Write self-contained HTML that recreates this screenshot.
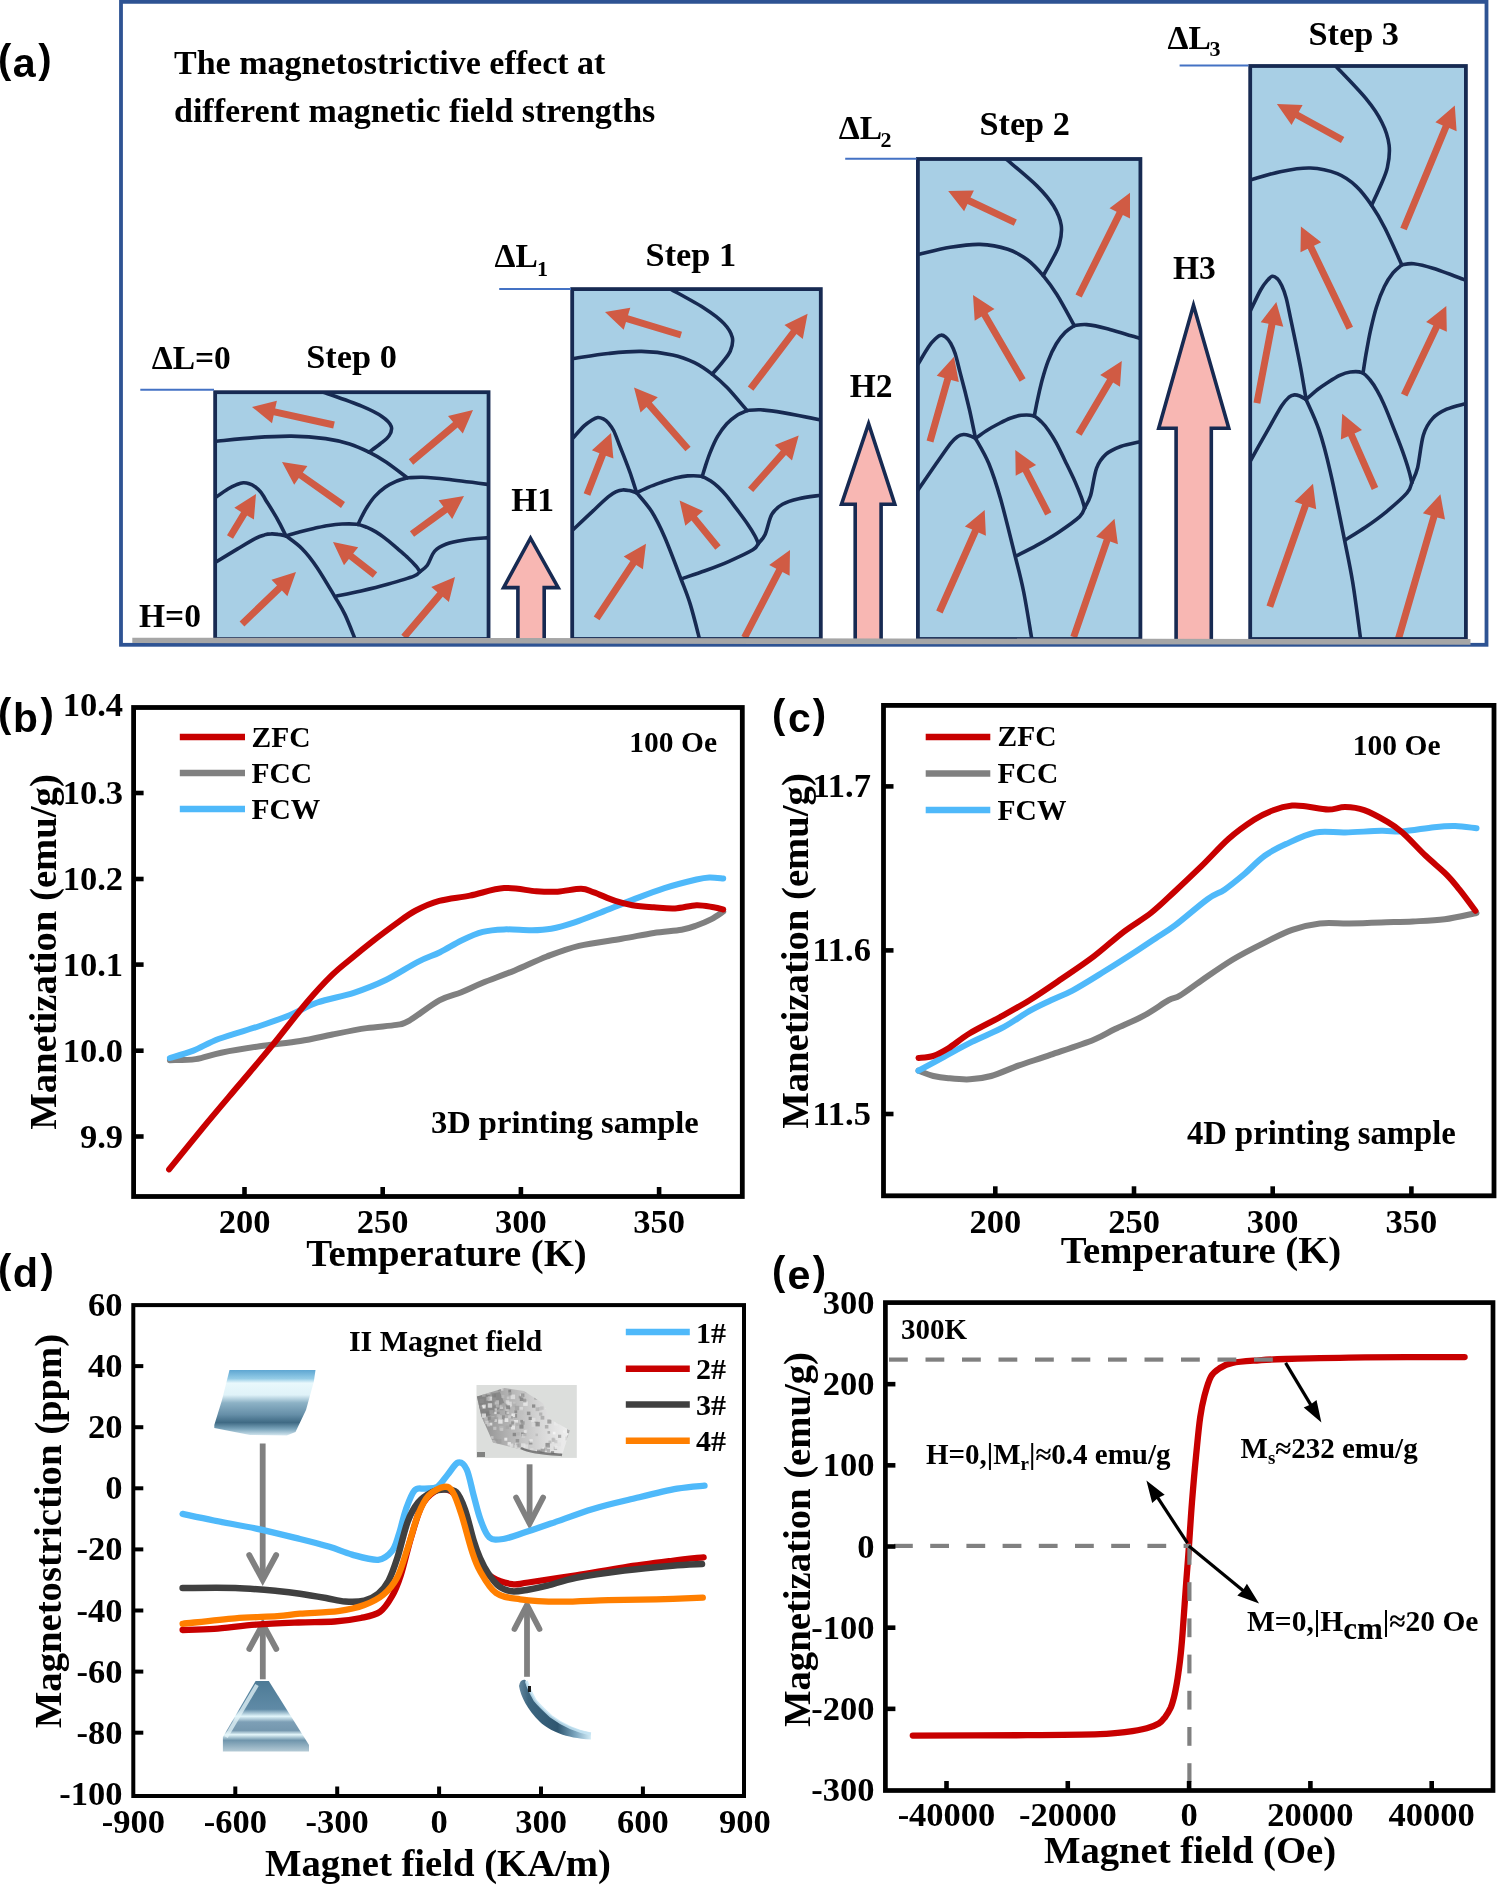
<!DOCTYPE html><html><head><meta charset="utf-8"><style>html,body{margin:0;padding:0;background:#fff;}svg{display:block;will-change:transform;}</style></head><body><svg width="1497" height="1885" viewBox="0 0 1497 1885">
<rect x="0" y="0" width="1497" height="1885" fill="#fff"/>
<text x="-2.0" y="72.6" font-size="40" text-anchor="start" fill="#000" style="font-family:'Liberation Sans',sans-serif;font-weight:bold;" >(</text>
<text x="38.3" y="72.6" font-size="40" text-anchor="start" fill="#000" style="font-family:'Liberation Sans',sans-serif;font-weight:bold;" >)</text>
<text x="12.8" y="77.1" font-size="41.2" text-anchor="start" fill="#000" style="font-family:'Liberation Sans',sans-serif;font-weight:bold;" >a</text>
<text x="174.0" y="74.0" font-size="34" text-anchor="start" fill="#000" style="font-family:'Liberation Serif',serif;font-weight:bold;" >The magnetostrictive effect at</text>
<text x="174.0" y="122.2" font-size="34" text-anchor="start" fill="#000" style="font-family:'Liberation Serif',serif;font-weight:bold;" >different magnetic field strengths</text>
<rect x="121" y="1.85" width="1365.5" height="642.95" fill="none" stroke="#2e5393" stroke-width="3.8"/>
<rect x="215.15" y="392.2" width="273.4" height="246.8" fill="#a8cfe5"/>
<clipPath id="cb0"><rect x="215.15" y="392.2" width="273.4" height="246.8"/></clipPath>
<g clip-path="url(#cb0)">
<path d="M323.4,392.2 C329.8,394.5 351.9,402.1 361.7,406.1 C371.4,410.2 377.0,413.0 381.9,416.4 C386.8,419.7 390.0,423.0 391.2,426.3 C392.4,429.5 390.9,432.9 389.0,435.9 C387.1,438.8 383.3,441.3 380.0,444.0 C376.7,446.7 370.9,450.8 369.0,452.2" fill="none" stroke="#172a52" stroke-width="3.6" stroke-linecap="round" stroke-linejoin="round"/>
<path d="M215.2,441.3 C221.8,440.7 242.1,438.5 254.8,437.6 C267.5,436.7 279.6,436.0 291.4,436.1 C303.2,436.3 315.9,437.3 325.6,438.6 C335.3,439.9 342.4,441.8 349.6,444.0 C356.9,446.3 363.0,449.2 369.0,452.2 C375.1,455.2 379.6,457.8 386.0,462.0 C392.4,466.3 403.8,475.2 407.3,477.8" fill="none" stroke="#172a52" stroke-width="3.6" stroke-linecap="round" stroke-linejoin="round"/>
<path d="M407.3,477.8 C409.8,477.8 415.8,477.1 422.3,477.3 C428.9,477.6 435.7,478.1 446.7,479.3 C457.7,480.5 481.5,483.6 488.5,484.5" fill="none" stroke="#172a52" stroke-width="3.6" stroke-linecap="round" stroke-linejoin="round"/>
<path d="M407.3,477.8 C405.4,478.4 399.8,479.7 396.1,481.3 C392.4,482.9 388.7,484.7 385.2,487.2 C381.7,489.7 378.0,492.9 375.1,496.1 C372.1,499.3 369.6,503.1 367.4,506.5 C365.2,509.8 363.5,513.3 361.9,516.3 C360.4,519.3 358.7,523.1 358.1,524.5" fill="none" stroke="#172a52" stroke-width="3.6" stroke-linecap="round" stroke-linejoin="round"/>
<path d="M215.2,497.8 C217.3,496.3 224.6,490.9 228.3,488.7 C231.9,486.5 234.5,485.5 237.0,484.5 C239.5,483.5 241.3,482.9 243.3,482.8 C245.4,482.7 247.4,483.1 249.3,483.8 C251.3,484.4 253.1,485.3 255.1,486.7 C257.0,488.1 258.8,489.6 260.8,492.2 C262.8,494.7 264.8,498.5 266.8,501.8 C268.9,505.1 271.1,508.5 273.1,511.9 C275.2,515.3 277.0,518.3 279.1,522.3 C281.3,526.3 284.8,533.6 285.9,535.8" fill="none" stroke="#172a52" stroke-width="3.6" stroke-linecap="round" stroke-linejoin="round"/>
<path d="M215.2,562.5 C218.9,560.2 230.9,552.9 237.6,548.9 C244.2,544.9 250.6,540.9 255.1,538.6 C259.5,536.2 261.7,535.6 264.4,534.9 C267.0,534.1 268.9,533.9 271.2,533.9 C273.5,533.8 275.6,534.0 278.0,534.4 C280.5,534.7 284.6,535.6 285.9,535.8" fill="none" stroke="#172a52" stroke-width="3.6" stroke-linecap="round" stroke-linejoin="round"/>
<path d="M285.9,535.8 C288.7,538.0 297.2,543.7 302.3,548.9 C307.5,554.1 311.5,559.3 316.8,567.2 C322.2,575.1 329.9,588.4 334.6,596.3 C339.3,604.2 341.6,607.5 345.0,614.6 C348.4,621.7 353.4,634.9 355.1,639.0" fill="none" stroke="#172a52" stroke-width="3.6" stroke-linecap="round" stroke-linejoin="round"/>
<path d="M285.9,535.8 C288.2,535.2 294.7,533.1 299.3,531.9 C304.0,530.7 309.0,529.5 313.8,528.4 C318.7,527.4 323.9,526.2 328.6,525.5 C333.3,524.7 337.3,524.2 342.0,524.0 C346.7,523.8 352.6,523.7 356.7,524.2 C360.9,524.8 363.9,526.2 367.1,527.4 C370.3,528.7 372.9,530.1 375.9,531.9 C378.8,533.7 381.4,535.4 384.9,538.1 C388.4,540.7 392.8,544.6 396.7,547.9 C400.5,551.3 404.9,555.0 408.1,558.0 C411.4,561.1 414.1,563.9 416.1,566.2 C418.0,568.5 419.3,570.7 419.9,571.6" fill="none" stroke="#172a52" stroke-width="3.6" stroke-linecap="round" stroke-linejoin="round"/>
<path d="M419.9,571.6 C421.1,570.6 424.8,568.6 427.3,565.2 C429.7,561.8 431.5,554.7 434.7,551.1 C437.8,547.6 441.5,545.8 446.4,544.0 C451.3,542.1 457.2,541.1 464.2,540.0 C471.2,539.0 484.4,538.0 488.5,537.6" fill="none" stroke="#172a52" stroke-width="3.6" stroke-linecap="round" stroke-linejoin="round"/>
<path d="M419.9,571.6 C418.9,572.4 419.3,574.0 413.9,576.1 C408.5,578.2 396.4,581.7 387.6,584.2 C378.8,586.7 369.7,588.9 361.1,590.9 C352.5,592.9 340.2,595.4 336.0,596.3" fill="none" stroke="#172a52" stroke-width="3.6" stroke-linecap="round" stroke-linejoin="round"/>
<polygon points="334.8,421.6 275.2,408.5 276.9,400.7 252.0,407.0 272.0,423.2 273.7,415.3 333.2,428.4" fill="#d05b44"/>
<polygon points="413.2,464.7 457.6,427.5 462.8,433.6 473.0,410.0 448.0,416.0 453.1,422.1 408.8,459.3" fill="#d05b44"/>
<polygon points="345.0,502.1 302.8,472.4 307.4,465.9 282.0,462.0 294.2,484.7 298.8,478.1 341.0,507.9" fill="#d05b44"/>
<polygon points="233.0,538.8 247.1,515.5 253.9,519.6 256.0,494.0 234.3,507.7 241.1,511.9 227.0,535.2" fill="#d05b44"/>
<polygon points="414.1,536.8 447.5,512.4 452.2,518.9 464.0,496.0 438.6,500.3 443.4,506.7 409.9,531.2" fill="#d05b44"/>
<polygon points="377.2,572.2 353.2,553.5 358.2,547.2 333.0,542.0 344.0,565.3 348.9,559.0 372.8,577.8" fill="#d05b44"/>
<polygon points="244.4,626.5 281.9,590.5 287.4,596.2 296.0,572.0 271.5,579.7 277.0,585.4 239.6,621.5" fill="#d05b44"/>
<polygon points="406.7,639.3 442.8,596.8 448.9,602.0 455.0,577.0 431.3,587.1 437.4,592.3 401.3,634.7" fill="#d05b44"/>
</g>
<rect x="215.15" y="392.2" width="273.4" height="246.8" fill="none" stroke="#172a52" stroke-width="3.8"/>
<rect x="572.2" y="289.1" width="248.6" height="349.9" fill="#a8cfe5"/>
<clipPath id="cb1"><rect x="572.2" y="289.1" width="248.6" height="349.9"/></clipPath>
<g clip-path="url(#cb1)">
<path d="M670.6,289.1 C676.4,292.4 696.6,303.2 705.4,308.9 C714.3,314.6 719.4,318.6 723.8,323.4 C728.3,328.1 731.2,332.8 732.3,337.4 C733.4,342.0 732.0,346.8 730.3,351.0 C728.6,355.2 725.1,358.7 722.1,362.6 C719.1,366.4 713.8,372.2 712.2,374.1" fill="none" stroke="#172a52" stroke-width="3.6" stroke-linecap="round" stroke-linejoin="round"/>
<path d="M572.2,358.7 C578.2,357.9 596.7,354.7 608.2,353.5 C619.8,352.3 630.8,351.1 641.6,351.4 C652.3,351.6 663.8,353.0 672.6,354.9 C681.5,356.7 687.9,359.4 694.5,362.6 C701.1,365.8 706.7,369.9 712.2,374.1 C717.7,378.4 721.8,382.1 727.6,388.1 C733.4,394.2 743.7,406.8 747.0,410.5" fill="none" stroke="#172a52" stroke-width="3.6" stroke-linecap="round" stroke-linejoin="round"/>
<path d="M747.0,410.5 C749.2,410.4 754.7,409.5 760.6,409.8 C766.6,410.2 772.7,410.9 782.8,412.6 C792.8,414.3 814.5,418.7 820.8,420.0" fill="none" stroke="#172a52" stroke-width="3.6" stroke-linecap="round" stroke-linejoin="round"/>
<path d="M747.0,410.5 C745.3,411.3 740.1,413.2 736.8,415.4 C733.4,417.6 730.0,420.3 726.8,423.8 C723.6,427.3 720.3,431.9 717.6,436.4 C714.9,441.0 712.7,446.3 710.7,451.1 C708.7,455.9 707.1,460.8 705.7,465.1 C704.3,469.4 702.8,474.7 702.2,476.6" fill="none" stroke="#172a52" stroke-width="3.6" stroke-linecap="round" stroke-linejoin="round"/>
<path d="M572.2,438.9 C574.2,436.7 580.8,429.1 584.1,425.9 C587.4,422.8 589.8,421.4 592.1,420.0 C594.4,418.6 595.9,417.7 597.8,417.5 C599.7,417.3 601.5,418.0 603.3,418.9 C605.1,419.8 606.8,421.1 608.5,423.1 C610.2,425.1 611.9,427.3 613.7,430.8 C615.5,434.4 617.3,439.8 619.2,444.5 C621.0,449.1 623.0,454.0 624.9,458.8 C626.8,463.6 628.4,467.8 630.4,473.5 C632.3,479.2 635.6,489.5 636.6,492.7" fill="none" stroke="#172a52" stroke-width="3.6" stroke-linecap="round" stroke-linejoin="round"/>
<path d="M572.2,530.5 C575.6,527.3 586.5,516.9 592.6,511.3 C598.6,505.6 604.4,499.9 608.5,496.6 C612.6,493.3 614.5,492.5 616.9,491.3 C619.4,490.2 621.1,490.1 623.2,489.9 C625.2,489.8 627.1,490.2 629.4,490.6 C631.6,491.1 635.4,492.4 636.6,492.7" fill="none" stroke="#172a52" stroke-width="3.6" stroke-linecap="round" stroke-linejoin="round"/>
<path d="M636.6,492.7 C639.1,495.8 646.8,503.9 651.5,511.3 C656.2,518.7 659.8,526.0 664.7,537.2 C669.6,548.4 676.6,567.3 680.8,578.5 C685.1,589.7 687.2,594.3 690.3,604.4 C693.4,614.4 698.0,633.2 699.5,639.0" fill="none" stroke="#172a52" stroke-width="3.6" stroke-linecap="round" stroke-linejoin="round"/>
<path d="M636.6,492.7 C638.6,491.8 644.5,488.9 648.8,487.1 C653.0,485.4 657.5,483.8 661.9,482.2 C666.4,480.7 671.1,479.1 675.4,478.0 C679.6,477.0 683.3,476.2 687.6,475.9 C691.8,475.7 697.2,475.5 701.0,476.3 C704.8,477.1 707.5,479.0 710.4,480.8 C713.3,482.7 715.7,484.6 718.4,487.1 C721.1,489.7 723.4,492.1 726.6,495.9 C729.7,499.7 733.7,505.2 737.3,509.9 C740.8,514.6 744.8,519.9 747.7,524.2 C750.7,528.5 753.1,532.6 754.9,535.8 C756.7,539.0 757.8,542.2 758.4,543.5" fill="none" stroke="#172a52" stroke-width="3.6" stroke-linecap="round" stroke-linejoin="round"/>
<path d="M758.4,543.5 C759.5,542.0 762.9,539.2 765.1,534.4 C767.4,529.5 768.9,519.5 771.8,514.4 C774.7,509.4 778.0,506.9 782.5,504.3 C787.0,501.7 792.3,500.2 798.7,498.7 C805.1,497.2 817.1,495.8 820.8,495.2" fill="none" stroke="#172a52" stroke-width="3.6" stroke-linecap="round" stroke-linejoin="round"/>
<path d="M758.4,543.5 C757.5,544.5 757.8,546.8 752.9,549.8 C748.0,552.7 737.1,557.8 729.1,561.3 C721.1,564.8 712.8,567.9 705.0,570.8 C697.1,573.6 685.9,577.2 682.1,578.5" fill="none" stroke="#172a52" stroke-width="3.6" stroke-linecap="round" stroke-linejoin="round"/>
<polygon points="682.0,331.7 628.0,315.3 630.3,307.7 605.0,312.0 623.7,329.7 626.0,322.0 680.0,338.3" fill="#d05b44"/>
<polygon points="753.4,390.8 796.5,334.1 802.8,339.0 807.6,313.7 784.5,325.1 790.9,329.9 747.8,386.6" fill="#d05b44"/>
<polygon points="690.6,446.7 651.8,402.5 657.8,397.2 634.0,387.5 640.5,412.4 646.5,407.1 685.4,451.3" fill="#d05b44"/>
<polygon points="590.3,495.8 605.9,455.7 613.4,458.6 611.0,433.0 591.9,450.2 599.4,453.2 583.7,493.2" fill="#d05b44"/>
<polygon points="753.2,492.0 786.0,455.1 792.0,460.4 798.7,435.6 774.8,445.1 780.8,450.5 748.0,487.4" fill="#d05b44"/>
<polygon points="720.7,545.3 696.9,516.2 703.1,511.1 679.6,500.6 685.3,525.7 691.5,520.6 715.3,549.7" fill="#d05b44"/>
<polygon points="599.5,620.3 636.2,564.9 642.9,569.3 646.0,543.8 623.7,556.6 630.4,561.0 593.7,616.5" fill="#d05b44"/>
<polygon points="747.6,639.2 782.5,572.0 789.6,575.7 790.0,550.0 769.2,565.1 776.3,568.8 741.4,636.0" fill="#d05b44"/>
</g>
<rect x="572.2" y="289.1" width="248.6" height="349.9" fill="none" stroke="#172a52" stroke-width="3.8"/>
<rect x="917.9" y="159" width="222.5" height="480.0" fill="#a8cfe5"/>
<clipPath id="cb2"><rect x="917.9" y="159" width="222.5" height="480.0"/></clipPath>
<g clip-path="url(#cb2)">
<path d="M1006.0,159.0 C1011.2,163.5 1029.2,178.3 1037.2,186.1 C1045.1,194.0 1049.6,199.5 1053.6,206.0 C1057.6,212.6 1060.2,218.9 1061.2,225.2 C1062.2,231.6 1060.9,238.2 1059.4,244.0 C1057.9,249.7 1054.8,254.5 1052.1,259.8 C1049.4,265.1 1044.7,273.0 1043.2,275.6" fill="none" stroke="#172a52" stroke-width="3.6" stroke-linecap="round" stroke-linejoin="round"/>
<path d="M917.9,254.5 C923.3,253.3 939.8,249.0 950.2,247.3 C960.5,245.6 970.4,244.1 980.0,244.4 C989.6,244.8 999.9,246.7 1007.8,249.2 C1015.7,251.8 1021.5,255.4 1027.4,259.8 C1033.3,264.2 1038.2,269.8 1043.2,275.6 C1048.1,281.5 1051.8,286.5 1057.0,294.8 C1062.2,303.2 1071.4,320.4 1074.3,325.6" fill="none" stroke="#172a52" stroke-width="3.6" stroke-linecap="round" stroke-linejoin="round"/>
<path d="M1074.3,325.6 C1076.4,325.4 1081.2,324.1 1086.6,324.6 C1091.9,325.1 1097.4,326.1 1106.4,328.4 C1115.3,330.8 1134.7,336.8 1140.4,338.5" fill="none" stroke="#172a52" stroke-width="3.6" stroke-linecap="round" stroke-linejoin="round"/>
<path d="M1074.3,325.6 C1072.8,326.7 1068.2,329.2 1065.2,332.3 C1062.2,335.3 1059.2,339.0 1056.3,343.8 C1053.4,348.6 1050.5,354.8 1048.1,361.1 C1045.7,367.3 1043.6,374.7 1041.8,381.2 C1040.1,387.8 1038.6,394.6 1037.4,400.4 C1036.1,406.3 1034.8,413.6 1034.3,416.3" fill="none" stroke="#172a52" stroke-width="3.6" stroke-linecap="round" stroke-linejoin="round"/>
<path d="M917.9,364.4 C919.7,361.5 925.6,351.0 928.6,346.7 C931.5,342.4 933.7,340.4 935.7,338.5 C937.7,336.6 939.1,335.4 940.8,335.2 C942.5,334.9 944.1,335.8 945.7,337.1 C947.3,338.4 948.8,340.1 950.4,342.8 C951.9,345.6 953.5,348.5 955.1,353.4 C956.7,358.3 958.3,365.7 960.0,372.1 C961.6,378.5 963.4,385.2 965.1,391.8 C966.7,398.4 968.2,404.2 970.0,412.0 C971.7,419.7 974.6,434.0 975.5,438.4" fill="none" stroke="#172a52" stroke-width="3.6" stroke-linecap="round" stroke-linejoin="round"/>
<path d="M917.9,490.2 C920.9,485.8 930.7,471.6 936.1,463.8 C941.6,456.0 946.8,448.2 950.4,443.6 C954.0,439.1 955.8,438.0 958.0,436.4 C960.1,434.9 961.7,434.7 963.5,434.5 C965.4,434.4 967.1,434.8 969.1,435.5 C971.1,436.1 974.5,437.9 975.5,438.4" fill="none" stroke="#172a52" stroke-width="3.6" stroke-linecap="round" stroke-linejoin="round"/>
<path d="M975.5,438.4 C977.8,442.6 984.7,453.6 988.9,463.8 C993.1,474.0 996.3,484.0 1000.7,499.3 C1005.0,514.7 1011.3,540.6 1015.1,556.0 C1019.0,571.3 1020.8,577.6 1023.6,591.5 C1026.4,605.3 1030.4,631.1 1031.8,639.0" fill="none" stroke="#172a52" stroke-width="3.6" stroke-linecap="round" stroke-linejoin="round"/>
<path d="M975.5,438.4 C977.3,437.1 982.6,433.1 986.4,430.7 C990.2,428.3 994.3,426.0 998.2,424.0 C1002.2,421.9 1006.4,419.6 1010.2,418.2 C1014.1,416.8 1017.3,415.7 1021.1,415.3 C1025.0,414.9 1029.7,414.7 1033.2,415.8 C1036.6,416.9 1039.0,419.6 1041.6,422.0 C1044.2,424.5 1046.3,427.2 1048.7,430.7 C1051.1,434.1 1053.3,437.5 1056.1,442.7 C1058.9,447.9 1062.5,455.4 1065.6,461.9 C1068.8,468.4 1072.4,475.6 1075.0,481.6 C1077.6,487.5 1079.8,493.0 1081.4,497.4 C1083.0,501.8 1084.0,506.2 1084.6,508.0" fill="none" stroke="#172a52" stroke-width="3.6" stroke-linecap="round" stroke-linejoin="round"/>
<path d="M1084.6,508.0 C1085.6,505.9 1088.6,502.1 1090.6,495.5 C1092.6,488.8 1094.0,475.0 1096.6,468.1 C1099.2,461.2 1102.1,457.8 1106.1,454.2 C1110.1,450.6 1114.9,448.6 1120.6,446.5 C1126.3,444.4 1137.1,442.5 1140.4,441.7" fill="none" stroke="#172a52" stroke-width="3.6" stroke-linecap="round" stroke-linejoin="round"/>
<path d="M1084.6,508.0 C1083.7,509.4 1084.0,512.5 1079.7,516.6 C1075.3,520.7 1065.5,527.6 1058.3,532.4 C1051.1,537.2 1043.7,541.5 1036.7,545.4 C1029.7,549.3 1019.7,554.2 1016.2,556.0" fill="none" stroke="#172a52" stroke-width="3.6" stroke-linecap="round" stroke-linejoin="round"/>
<polygon points="1016.8,219.4 970.5,197.6 973.9,190.4 948.2,191.0 964.1,211.2 967.5,204.0 1013.8,225.8" fill="#d05b44"/>
<polygon points="1081.7,297.6 1122.9,214.9 1130.0,218.5 1130.0,192.8 1109.5,208.3 1116.6,211.8 1075.5,294.4" fill="#d05b44"/>
<polygon points="1025.6,378.2 987.6,313.1 994.5,309.1 973.0,295.0 974.7,320.7 981.6,316.6 1019.6,381.8" fill="#d05b44"/>
<polygon points="933.4,442.4 951.1,379.9 958.8,382.1 954.0,356.8 936.7,375.8 944.4,378.0 926.6,440.4" fill="#d05b44"/>
<polygon points="1081.6,435.8 1113.1,382.6 1120.0,386.7 1121.8,361.0 1100.2,374.9 1107.1,379.0 1075.6,432.2" fill="#d05b44"/>
<polygon points="1051.4,512.2 1029.0,468.8 1036.1,465.1 1015.3,450.0 1015.7,475.7 1022.8,472.0 1045.2,515.4" fill="#d05b44"/>
<polygon points="942.6,613.4 978.6,532.4 985.9,535.7 984.7,510.0 964.9,526.4 972.2,529.6 936.2,610.6" fill="#d05b44"/>
<polygon points="1077.0,638.1 1110.3,541.6 1117.9,544.2 1114.5,518.7 1096.1,536.7 1103.7,539.3 1070.4,635.9" fill="#d05b44"/>
</g>
<rect x="917.9" y="159" width="222.5" height="480.0" fill="none" stroke="#172a52" stroke-width="3.8"/>
<rect x="1250.2" y="66" width="215.7" height="573.0" fill="#a8cfe5"/>
<clipPath id="cb3"><rect x="1250.2" y="66" width="215.7" height="573.0"/></clipPath>
<g clip-path="url(#cb3)">
<path d="M1335.6,66.0 C1340.7,71.4 1358.1,89.0 1365.8,98.4 C1373.5,107.7 1377.9,114.4 1381.8,122.2 C1385.7,129.9 1388.2,137.5 1389.1,145.1 C1390.0,152.6 1388.9,160.5 1387.4,167.4 C1385.9,174.3 1382.9,180.0 1380.3,186.3 C1377.6,192.6 1373.1,202.1 1371.6,205.2" fill="none" stroke="#172a52" stroke-width="3.6" stroke-linecap="round" stroke-linejoin="round"/>
<path d="M1250.2,180.0 C1255.4,178.6 1271.4,173.4 1281.5,171.4 C1291.5,169.4 1301.1,167.6 1310.4,168.0 C1319.7,168.4 1329.7,170.7 1337.3,173.7 C1345.0,176.8 1350.6,181.1 1356.3,186.3 C1362.0,191.6 1366.9,198.3 1371.6,205.2 C1376.4,212.2 1380.0,218.2 1385.0,228.2 C1390.0,238.1 1399.0,258.7 1401.8,264.8" fill="none" stroke="#172a52" stroke-width="3.6" stroke-linecap="round" stroke-linejoin="round"/>
<path d="M1401.8,264.8 C1403.8,264.6 1408.5,263.1 1413.7,263.7 C1418.9,264.3 1424.2,265.5 1432.9,268.3 C1441.6,271.0 1460.4,278.3 1465.9,280.3" fill="none" stroke="#172a52" stroke-width="3.6" stroke-linecap="round" stroke-linejoin="round"/>
<path d="M1401.8,264.8 C1400.4,266.2 1395.9,269.2 1393.0,272.9 C1390.1,276.5 1387.1,280.9 1384.4,286.6 C1381.6,292.3 1378.7,299.8 1376.4,307.2 C1374.0,314.7 1372.1,323.5 1370.3,331.3 C1368.6,339.1 1367.3,347.2 1366.0,354.2 C1364.8,361.2 1363.5,370.0 1363.0,373.1" fill="none" stroke="#172a52" stroke-width="3.6" stroke-linecap="round" stroke-linejoin="round"/>
<path d="M1250.2,311.2 C1251.9,307.7 1257.7,295.2 1260.6,290.0 C1263.4,284.9 1265.5,282.6 1267.5,280.3 C1269.4,278.0 1270.8,276.6 1272.4,276.3 C1274.0,276.0 1275.6,277.1 1277.2,278.6 C1278.7,280.1 1280.2,282.2 1281.7,285.5 C1283.2,288.7 1284.7,292.2 1286.2,298.1 C1287.8,303.9 1289.3,312.8 1291.0,320.4 C1292.6,328.1 1294.3,336.0 1295.9,343.9 C1297.5,351.8 1299.0,358.7 1300.7,368.0 C1302.4,377.2 1305.2,394.2 1306.1,399.5" fill="none" stroke="#172a52" stroke-width="3.6" stroke-linecap="round" stroke-linejoin="round"/>
<path d="M1250.2,461.4 C1253.1,456.1 1262.6,439.1 1267.9,429.9 C1273.1,420.6 1278.2,411.2 1281.7,405.8 C1285.2,400.3 1286.9,399.0 1289.0,397.2 C1291.1,395.4 1292.6,395.1 1294.4,394.9 C1296.2,394.7 1297.9,395.3 1299.8,396.0 C1301.8,396.8 1305.0,398.9 1306.1,399.5" fill="none" stroke="#172a52" stroke-width="3.6" stroke-linecap="round" stroke-linejoin="round"/>
<path d="M1306.1,399.5 C1308.2,404.5 1314.9,417.7 1319.0,429.9 C1323.1,442.0 1326.2,453.9 1330.4,472.3 C1334.7,490.6 1340.8,521.5 1344.5,539.9 C1348.2,558.2 1350.0,565.8 1352.7,582.3 C1355.4,598.8 1359.3,629.5 1360.6,639.0" fill="none" stroke="#172a52" stroke-width="3.6" stroke-linecap="round" stroke-linejoin="round"/>
<path d="M1306.1,399.5 C1307.8,398.0 1313.0,393.2 1316.6,390.3 C1320.3,387.5 1324.2,384.8 1328.1,382.3 C1331.9,379.8 1336.0,377.1 1339.7,375.4 C1343.4,373.7 1346.6,372.5 1350.3,372.0 C1354.0,371.5 1358.6,371.2 1361.9,372.6 C1365.2,373.9 1367.6,377.0 1370.1,380.0 C1372.6,383.0 1374.7,386.2 1377.0,390.3 C1379.4,394.4 1381.4,398.4 1384.1,404.6 C1386.9,410.9 1390.4,419.8 1393.4,427.6 C1396.5,435.3 1399.9,444.0 1402.5,451.1 C1405.0,458.1 1407.2,464.7 1408.7,470.0 C1410.3,475.2 1411.3,480.5 1411.8,482.6" fill="none" stroke="#172a52" stroke-width="3.6" stroke-linecap="round" stroke-linejoin="round"/>
<path d="M1411.8,482.6 C1412.7,480.1 1415.6,475.6 1417.6,467.7 C1419.5,459.7 1420.9,443.2 1423.4,435.0 C1425.9,426.8 1428.8,422.7 1432.7,418.4 C1436.6,414.1 1441.2,411.7 1446.7,409.2 C1452.2,406.7 1462.7,404.5 1465.9,403.5" fill="none" stroke="#172a52" stroke-width="3.6" stroke-linecap="round" stroke-linejoin="round"/>
<path d="M1411.8,482.6 C1411.0,484.3 1411.3,488.0 1407.0,492.9 C1402.8,497.8 1393.2,506.1 1386.3,511.8 C1379.4,517.5 1372.2,522.6 1365.4,527.3 C1358.6,531.9 1348.8,537.8 1345.5,539.9" fill="none" stroke="#172a52" stroke-width="3.6" stroke-linecap="round" stroke-linejoin="round"/>
<polygon points="1344.3,136.9 1298.7,111.9 1302.6,104.9 1276.9,103.9 1291.5,125.1 1295.4,118.0 1340.9,143.1" fill="#d05b44"/>
<polygon points="1406.7,230.3 1449.2,128.1 1456.6,131.2 1454.8,105.5 1435.4,122.3 1442.7,125.4 1400.3,227.7" fill="#d05b44"/>
<polygon points="1353.0,326.8 1314.0,245.7 1321.2,242.3 1300.9,226.5 1300.5,252.2 1307.7,248.7 1346.6,329.8" fill="#d05b44"/>
<polygon points="1260.3,403.8 1275.4,325.1 1283.3,326.7 1276.3,301.9 1260.7,322.3 1268.5,323.8 1253.5,402.4" fill="#d05b44"/>
<polygon points="1407.4,396.5 1439.6,328.4 1446.8,331.8 1446.3,306.1 1426.1,322.0 1433.3,325.4 1401.0,393.5" fill="#d05b44"/>
<polygon points="1378.2,487.1 1354.6,433.4 1362.0,430.1 1342.2,413.7 1340.9,439.4 1348.2,436.2 1371.8,489.9" fill="#d05b44"/>
<polygon points="1273.1,607.8 1308.7,506.7 1316.2,509.3 1313.0,483.8 1294.5,501.7 1302.1,504.3 1266.5,605.4" fill="#d05b44"/>
<polygon points="1401.8,640.0 1437.3,517.4 1445.0,519.6 1440.4,494.3 1422.9,513.2 1430.6,515.4 1395.0,638.0" fill="#d05b44"/>
</g>
<rect x="1250.2" y="66" width="215.7" height="573.0" fill="none" stroke="#172a52" stroke-width="3.8"/>
<line x1="140.3" y1="389.8" x2="214" y2="389.8" stroke="#4472c4" stroke-width="2"/>
<line x1="499.2" y1="289" x2="571" y2="289" stroke="#4472c4" stroke-width="2"/>
<line x1="845.2" y1="158.8" x2="916.5" y2="158.8" stroke="#4472c4" stroke-width="2"/>
<line x1="1179.6" y1="65.6" x2="1248.5" y2="65.6" stroke="#4472c4" stroke-width="2"/>
<polygon points="517.9,640.0 517.9,587.6 503.6,587.6 530.5,538.2 558.2,587.6 544.2,587.6 544.2,640.0" fill="#f8b7b3"/>
<polyline points="517.9,640.0 517.9,587.6 503.6,587.6 530.5,538.2 558.2,587.6 544.2,587.6 544.2,640.0" fill="none" stroke="#172a52" stroke-width="3.6" stroke-linejoin="miter" stroke-miterlimit="10"/>
<polygon points="855.2,640.0 855.2,504.2 841.5,504.2 868.6,423.7 894.8,504.2 881.1,504.2 881.1,640.0" fill="#f8b7b3"/>
<polyline points="855.2,640.0 855.2,504.2 841.5,504.2 868.6,423.7 894.8,504.2 881.1,504.2 881.1,640.0" fill="none" stroke="#172a52" stroke-width="3.6" stroke-linejoin="miter" stroke-miterlimit="10"/>
<polygon points="1176.1,640.0 1176.1,428.2 1158.7,428.2 1193.5,305.2 1228.8,428.2 1211.3,428.2 1211.3,640.0" fill="#f8b7b3"/>
<polyline points="1176.1,640.0 1176.1,428.2 1158.7,428.2 1193.5,305.2 1228.8,428.2 1211.3,428.2 1211.3,640.0" fill="none" stroke="#172a52" stroke-width="3.6" stroke-linejoin="miter" stroke-miterlimit="10"/>
<polygon points="132.3,637.7 1470.5,639.1 1470.5,644.8 132.3,643.1" fill="#a6a6a6"/>
<text x="151.7" y="369.0" font-size="33.5" text-anchor="start" fill="#000" style="font-family:'Liberation Serif',serif;font-weight:bold;" >&#916;L=0</text>
<text x="306.3" y="367.6" font-size="34.3" text-anchor="start" fill="#000" style="font-family:'Liberation Serif',serif;font-weight:bold;" >Step 0</text>
<text x="139.0" y="627.4" font-size="33.5" text-anchor="start" fill="#000" style="font-family:'Liberation Serif',serif;font-weight:bold;" >H=0</text>
<text x="494.4" y="267.3" font-size="33.5" text-anchor="start" fill="#000" style="font-family:'Liberation Serif',serif;font-weight:bold;" >&#916;L</text>
<text x="537.0" y="275.7" font-size="22" text-anchor="start" fill="#000" style="font-family:'Liberation Serif',serif;font-weight:bold;" >1</text>
<text x="645.6" y="266.0" font-size="34.3" text-anchor="start" fill="#000" style="font-family:'Liberation Serif',serif;font-weight:bold;" >Step 1</text>
<text x="511.2" y="511.1" font-size="33.5" text-anchor="start" fill="#000" style="font-family:'Liberation Serif',serif;font-weight:bold;" >H1</text>
<text x="838.8" y="139.4" font-size="33.5" text-anchor="start" fill="#000" style="font-family:'Liberation Serif',serif;font-weight:bold;" >&#916;L</text>
<text x="880.5" y="146.7" font-size="22" text-anchor="start" fill="#000" style="font-family:'Liberation Serif',serif;font-weight:bold;" >2</text>
<text x="979.4" y="135.0" font-size="34.3" text-anchor="start" fill="#000" style="font-family:'Liberation Serif',serif;font-weight:bold;" >Step 2</text>
<text x="849.8" y="396.9" font-size="33.5" text-anchor="start" fill="#000" style="font-family:'Liberation Serif',serif;font-weight:bold;" >H2</text>
<text x="1167.6" y="48.5" font-size="33.5" text-anchor="start" fill="#000" style="font-family:'Liberation Serif',serif;font-weight:bold;" >&#916;L</text>
<text x="1209.5" y="55.7" font-size="22" text-anchor="start" fill="#000" style="font-family:'Liberation Serif',serif;font-weight:bold;" >3</text>
<text x="1308.5" y="44.6" font-size="34.3" text-anchor="start" fill="#000" style="font-family:'Liberation Serif',serif;font-weight:bold;" >Step 3</text>
<text x="1173.0" y="278.5" font-size="33.5" text-anchor="start" fill="#000" style="font-family:'Liberation Serif',serif;font-weight:bold;" >H3</text>
<text x="-2.0" y="726.9" font-size="40" text-anchor="start" fill="#000" style="font-family:'Liberation Sans',sans-serif;font-weight:bold;" >(</text>
<text x="40.6" y="726.9" font-size="40" text-anchor="start" fill="#000" style="font-family:'Liberation Sans',sans-serif;font-weight:bold;" >)</text>
<text x="13.0" y="731.7" font-size="40.7" text-anchor="start" fill="#000" style="font-family:'Liberation Sans',sans-serif;font-weight:bold;" >b</text>
<path d="M169.9,1060.2 C174.2,1060.0 187.1,1060.3 195.6,1059.1 C204.1,1057.8 210.5,1054.8 221.2,1052.7 C231.9,1050.6 246.5,1048.2 259.7,1046.3 C272.9,1044.3 288.2,1043.0 300.3,1041.0 C312.4,1039.0 321.3,1036.7 332.4,1034.5 C343.4,1032.3 355.9,1029.7 366.6,1028.1 C377.3,1026.5 389.4,1026.2 396.5,1024.9 C403.6,1023.7 402.2,1024.7 409.3,1020.6 C416.4,1016.5 430.6,1005.0 439.3,1000.3 C448.0,995.6 454.1,995.1 461.4,992.2 C468.6,989.3 473.9,986.4 482.8,982.8 C491.7,979.2 504.1,974.8 514.8,970.4 C525.5,966.0 536.2,960.6 546.9,956.5 C557.6,952.4 566.5,948.8 579.0,945.8 C591.5,942.8 609.2,940.9 621.7,938.8 C634.2,936.7 643.8,934.5 653.8,933.0 C663.8,931.5 674.5,931.0 681.6,929.8 C688.7,928.5 691.5,927.3 696.5,925.5 C701.5,923.7 707.0,921.4 711.5,919.1 C716.0,916.8 721.2,912.9 723.2,911.6" fill="none" stroke="#808080" stroke-width="6" stroke-linecap="round" stroke-linejoin="round"/>
<path d="M169.9,1058.0 C173.8,1056.8 185.2,1053.8 193.4,1050.6 C201.6,1047.4 208.1,1042.9 219.1,1038.8 C230.1,1034.7 247.9,1029.9 259.7,1026.0 C271.4,1022.1 280.0,1019.2 289.6,1015.3 C299.2,1011.4 306.7,1006.2 317.4,1002.5 C328.1,998.8 342.4,996.5 353.8,992.8 C365.2,989.0 375.1,985.2 385.8,980.0 C396.5,974.8 408.9,966.4 417.9,961.8 C426.9,957.2 432.8,955.8 440.0,952.2 C447.2,948.7 454.3,943.9 461.4,940.5 C468.5,937.1 475.7,933.8 482.8,931.9 C489.9,930.0 495.9,929.7 504.1,929.4 C512.3,929.1 524.0,930.3 531.9,930.2 C539.8,930.1 544.1,930.0 551.2,928.7 C558.3,927.4 566.5,925.0 574.7,922.3 C582.9,919.6 590.7,916.4 600.3,912.7 C609.9,909.0 621.7,904.0 632.4,899.9 C643.1,895.8 653.8,891.5 664.5,888.1 C675.2,884.7 689.0,881.3 696.5,879.5 C704.0,877.7 704.8,877.6 709.3,877.4 C713.8,877.2 720.9,878.3 723.2,878.5" fill="none" stroke="#4fb9fa" stroke-width="6" stroke-linecap="round" stroke-linejoin="round"/>
<path d="M169.1,1169.3 C174.9,1162.2 192.6,1140.3 204.1,1126.4 C215.6,1112.5 226.9,1099.3 238.3,1085.8 C249.7,1072.3 261.1,1059.1 272.5,1045.2 C283.9,1031.3 296.7,1014.2 306.7,1002.5 C316.7,990.8 324.5,982.4 332.4,974.7 C340.2,967.0 347.4,961.9 353.8,956.5 C360.2,951.1 363.8,948.1 370.9,942.6 C378.0,937.1 389.0,928.8 396.5,923.4 C404.0,918.0 408.7,914.2 415.8,910.5 C422.9,906.8 430.3,903.4 439.3,900.9 C448.3,898.4 459.1,897.7 469.9,895.6 C480.7,893.5 493.1,888.8 504.1,888.1 C515.2,887.4 527.3,890.7 536.2,891.3 C545.1,891.9 550.1,892.1 557.6,891.7 C565.1,891.3 575.1,888.6 581.1,888.7 C587.1,888.8 588.2,890.4 593.9,892.4 C599.6,894.4 608.9,898.8 615.3,900.9 C621.7,903.0 626.0,904.1 632.4,905.2 C638.8,906.3 646.7,906.8 653.8,907.3 C660.9,907.8 668.0,908.8 675.1,908.4 C682.2,908.0 690.1,905.4 696.5,905.2 C702.9,905.0 709.1,906.6 713.6,907.3 C718.1,908.0 721.6,909.1 723.2,909.5" fill="none" stroke="#c80000" stroke-width="6" stroke-linecap="round" stroke-linejoin="round"/>
<rect x="133.6" y="707.5" width="608.7" height="489.0" fill="none" stroke="#000" stroke-width="4.8"/>
<text x="123.0" y="716.0" font-size="34.5" text-anchor="end" fill="#000" style="font-family:'Liberation Serif',serif;font-weight:bold;" >10.4</text>
<line x1="133.6" y1="793" x2="143.6" y2="793" stroke="#000" stroke-width="4.6"/>
<text x="123.0" y="804.0" font-size="34.5" text-anchor="end" fill="#000" style="font-family:'Liberation Serif',serif;font-weight:bold;" >10.3</text>
<line x1="133.6" y1="879" x2="143.6" y2="879" stroke="#000" stroke-width="4.6"/>
<text x="123.0" y="890.0" font-size="34.5" text-anchor="end" fill="#000" style="font-family:'Liberation Serif',serif;font-weight:bold;" >10.2</text>
<line x1="133.6" y1="964.6" x2="143.6" y2="964.6" stroke="#000" stroke-width="4.6"/>
<text x="123.0" y="975.6" font-size="34.5" text-anchor="end" fill="#000" style="font-family:'Liberation Serif',serif;font-weight:bold;" >10.1</text>
<line x1="133.6" y1="1050.7" x2="143.6" y2="1050.7" stroke="#000" stroke-width="4.6"/>
<text x="123.0" y="1061.7" font-size="34.5" text-anchor="end" fill="#000" style="font-family:'Liberation Serif',serif;font-weight:bold;" >10.0</text>
<line x1="133.6" y1="1136.5" x2="143.6" y2="1136.5" stroke="#000" stroke-width="4.6"/>
<text x="123.0" y="1147.5" font-size="34.5" text-anchor="end" fill="#000" style="font-family:'Liberation Serif',serif;font-weight:bold;" >9.9</text>
<line x1="244.5" y1="1196.5" x2="244.5" y2="1187.0" stroke="#000" stroke-width="4.6"/>
<text x="244.5" y="1233.0" font-size="34.5" text-anchor="middle" fill="#000" style="font-family:'Liberation Serif',serif;font-weight:bold;" >200</text>
<line x1="382.7" y1="1196.5" x2="382.7" y2="1187.0" stroke="#000" stroke-width="4.6"/>
<text x="382.7" y="1233.0" font-size="34.5" text-anchor="middle" fill="#000" style="font-family:'Liberation Serif',serif;font-weight:bold;" >250</text>
<line x1="520.9" y1="1196.5" x2="520.9" y2="1187.0" stroke="#000" stroke-width="4.6"/>
<text x="520.9" y="1233.0" font-size="34.5" text-anchor="middle" fill="#000" style="font-family:'Liberation Serif',serif;font-weight:bold;" >300</text>
<line x1="659.0999999999999" y1="1196.5" x2="659.0999999999999" y2="1187.0" stroke="#000" stroke-width="4.6"/>
<text x="659.1" y="1233.0" font-size="34.5" text-anchor="middle" fill="#000" style="font-family:'Liberation Serif',serif;font-weight:bold;" >350</text>
<text x="446.5" y="1265.5" font-size="38.7" text-anchor="middle" fill="#000" style="font-family:'Liberation Serif',serif;font-weight:bold;" >Temperature (K)</text>
<text x="0" y="0" font-size="38.7" text-anchor="middle" style="font-family:'Liberation Serif',serif;font-weight:bold;" transform="translate(56,952) rotate(-90)">Manetization (emu/g)</text>
<line x1="179.8" y1="737" x2="245" y2="737" stroke="#c80000" stroke-width="6.5"/>
<text x="251.5" y="746.5" font-size="29.5" text-anchor="start" fill="#000" style="font-family:'Liberation Serif',serif;font-weight:bold;" >ZFC</text>
<line x1="179.8" y1="773" x2="245" y2="773" stroke="#808080" stroke-width="6.5"/>
<text x="251.5" y="782.5" font-size="29.5" text-anchor="start" fill="#000" style="font-family:'Liberation Serif',serif;font-weight:bold;" >FCC</text>
<line x1="179.8" y1="809" x2="245" y2="809" stroke="#4fb9fa" stroke-width="6.5"/>
<text x="251.5" y="818.5" font-size="29.5" text-anchor="start" fill="#000" style="font-family:'Liberation Serif',serif;font-weight:bold;" >FCW</text>
<text x="717.0" y="752.0" font-size="29.5" text-anchor="end" fill="#000" style="font-family:'Liberation Serif',serif;font-weight:bold;" >100 Oe</text>
<text x="698.8" y="1133.0" font-size="32.6" text-anchor="end" fill="#000" style="font-family:'Liberation Serif',serif;font-weight:bold;" >3D printing sample</text>
<text x="772.1" y="727.9" font-size="40" text-anchor="start" fill="#000" style="font-family:'Liberation Sans',sans-serif;font-weight:bold;" >(</text>
<text x="812.8" y="727.9" font-size="40" text-anchor="start" fill="#000" style="font-family:'Liberation Sans',sans-serif;font-weight:bold;" >)</text>
<text x="787.9" y="732.1" font-size="41" text-anchor="start" fill="#000" style="font-family:'Liberation Sans',sans-serif;font-weight:bold;" >c</text>
<path d="M918.5,1070.7 C921.0,1071.6 928.4,1074.8 933.4,1076.0 C938.4,1077.2 942.3,1077.7 948.4,1078.2 C954.5,1078.8 962.7,1079.7 969.8,1079.3 C976.9,1078.9 983.0,1078.3 991.2,1076.0 C999.4,1073.7 1009.0,1069.0 1019.0,1065.4 C1029.0,1061.9 1038.5,1059.0 1051.0,1054.7 C1063.5,1050.4 1083.1,1044.0 1093.8,1039.7 C1104.5,1035.4 1106.9,1032.9 1115.1,1029.0 C1123.3,1025.1 1134.0,1021.0 1142.9,1016.2 C1151.8,1011.4 1162.4,1003.7 1168.6,1000.2 C1174.8,996.8 1174.6,998.8 1180.0,995.5 C1185.4,992.2 1192.4,986.7 1201.2,980.7 C1210.0,974.7 1222.3,965.9 1232.9,959.5 C1243.5,953.1 1254.8,947.5 1264.7,942.6 C1274.6,937.7 1283.0,933.1 1292.2,929.9 C1301.4,926.7 1310.3,924.6 1319.8,923.5 C1329.3,922.4 1339.2,923.7 1349.4,923.5 C1359.6,923.3 1370.6,922.9 1381.2,922.5 C1391.8,922.1 1402.3,921.9 1412.9,921.4 C1423.5,920.9 1434.1,920.7 1444.7,919.3 C1455.3,917.9 1471.2,914.0 1476.5,913.0" fill="none" stroke="#808080" stroke-width="6" stroke-linecap="round" stroke-linejoin="round"/>
<path d="M918.5,1070.7 C922.8,1068.4 935.2,1061.6 944.1,1056.8 C953.0,1052.0 961.9,1046.9 971.9,1041.9 C981.9,1036.9 994.4,1032.1 1004.0,1026.9 C1013.6,1021.7 1021.8,1015.4 1029.6,1010.9 C1037.4,1006.4 1043.9,1003.6 1051.0,1000.2 C1058.1,996.8 1063.5,995.4 1072.4,990.6 C1081.3,985.8 1093.8,977.9 1104.5,971.3 C1115.2,964.7 1128.0,956.5 1136.5,951.0 C1145.0,945.5 1149.4,942.5 1155.8,938.2 C1162.2,933.9 1166.4,931.9 1175.0,925.4 C1183.6,918.9 1199.2,905.2 1207.5,899.2 C1215.8,893.2 1218.5,893.8 1224.5,889.7 C1230.5,885.6 1236.8,880.4 1243.5,874.8 C1250.2,869.1 1257.6,860.9 1264.7,855.8 C1271.8,850.7 1277.4,848.0 1285.9,844.1 C1294.4,840.2 1305.6,834.4 1315.5,832.5 C1325.4,830.6 1334.2,832.8 1345.2,832.5 C1356.2,832.2 1371.7,831.0 1381.2,830.8 C1390.7,830.6 1393.6,832.0 1402.4,831.4 C1411.2,830.8 1425.3,828.1 1434.1,827.2 C1442.9,826.3 1448.2,825.9 1455.3,826.1 C1462.4,826.3 1473.0,827.9 1476.5,828.2" fill="none" stroke="#4fb9fa" stroke-width="6" stroke-linecap="round" stroke-linejoin="round"/>
<path d="M918.5,1057.9 C921.0,1057.6 928.4,1057.4 933.4,1055.8 C938.4,1054.2 942.3,1052.0 948.4,1048.3 C954.5,1044.5 961.2,1038.5 969.8,1033.3 C978.3,1028.1 989.7,1022.8 999.7,1017.3 C1009.7,1011.8 1019.3,1006.6 1029.6,1000.2 C1039.9,993.8 1051.0,986.1 1061.7,978.8 C1072.4,971.5 1083.5,964.2 1093.8,956.4 C1104.1,948.6 1114.1,939.1 1123.7,931.8 C1133.3,924.5 1143.0,919.3 1151.5,912.5 C1160.0,905.7 1166.7,898.9 1175.0,891.2 C1183.3,883.5 1192.2,875.1 1201.2,866.4 C1210.2,857.7 1219.9,846.6 1228.7,838.8 C1237.5,831.0 1246.7,824.6 1254.1,819.8 C1261.5,815.0 1266.8,812.6 1273.2,810.2 C1279.6,807.8 1286.6,806.2 1292.2,805.6 C1297.8,805.0 1301.0,805.9 1307.0,806.6 C1313.0,807.3 1321.8,809.5 1328.2,809.6 C1334.6,809.7 1339.2,807.0 1345.2,807.1 C1351.2,807.2 1357.2,807.7 1364.2,810.2 C1371.2,812.7 1381.1,818.2 1387.5,821.9 C1393.9,825.6 1396.0,826.9 1402.4,832.5 C1408.8,838.1 1418.3,848.8 1425.7,855.8 C1433.1,862.8 1441.2,869.1 1446.8,874.8 C1452.4,880.4 1454.7,883.7 1459.5,889.7 C1464.3,895.7 1472.8,907.3 1475.4,910.8" fill="none" stroke="#c80000" stroke-width="6" stroke-linecap="round" stroke-linejoin="round"/>
<rect x="883.5" y="705.4" width="610.5" height="490.4" fill="none" stroke="#000" stroke-width="4.8"/>
<line x1="883.5" y1="786.4" x2="893.5" y2="786.4" stroke="#000" stroke-width="4.6"/>
<text x="871.0" y="797.4" font-size="34.5" text-anchor="end" fill="#000" style="font-family:'Liberation Serif',serif;font-weight:bold;" >11.7</text>
<line x1="883.5" y1="950.4" x2="893.5" y2="950.4" stroke="#000" stroke-width="4.6"/>
<text x="871.0" y="961.4" font-size="34.5" text-anchor="end" fill="#000" style="font-family:'Liberation Serif',serif;font-weight:bold;" >11.6</text>
<line x1="883.5" y1="1114" x2="893.5" y2="1114" stroke="#000" stroke-width="4.6"/>
<text x="871.0" y="1125.0" font-size="34.5" text-anchor="end" fill="#000" style="font-family:'Liberation Serif',serif;font-weight:bold;" >11.5</text>
<line x1="995.3" y1="1195.8" x2="995.3" y2="1186.3" stroke="#000" stroke-width="4.6"/>
<text x="995.3" y="1233.0" font-size="34.5" text-anchor="middle" fill="#000" style="font-family:'Liberation Serif',serif;font-weight:bold;" >200</text>
<line x1="1134.0" y1="1195.8" x2="1134.0" y2="1186.3" stroke="#000" stroke-width="4.6"/>
<text x="1134.0" y="1233.0" font-size="34.5" text-anchor="middle" fill="#000" style="font-family:'Liberation Serif',serif;font-weight:bold;" >250</text>
<line x1="1272.6999999999998" y1="1195.8" x2="1272.6999999999998" y2="1186.3" stroke="#000" stroke-width="4.6"/>
<text x="1272.7" y="1233.0" font-size="34.5" text-anchor="middle" fill="#000" style="font-family:'Liberation Serif',serif;font-weight:bold;" >300</text>
<line x1="1411.3999999999999" y1="1195.8" x2="1411.3999999999999" y2="1186.3" stroke="#000" stroke-width="4.6"/>
<text x="1411.4" y="1233.0" font-size="34.5" text-anchor="middle" fill="#000" style="font-family:'Liberation Serif',serif;font-weight:bold;" >350</text>
<text x="1201.0" y="1263.0" font-size="38.7" text-anchor="middle" fill="#000" style="font-family:'Liberation Serif',serif;font-weight:bold;" >Temperature (K)</text>
<text x="0" y="0" font-size="38.7" text-anchor="middle" style="font-family:'Liberation Serif',serif;font-weight:bold;" transform="translate(808,951) rotate(-90)">Manetization (emu/g)</text>
<line x1="925.7" y1="736.9" x2="990.3" y2="736.9" stroke="#c80000" stroke-width="6.5"/>
<text x="997.6" y="746.4" font-size="29.5" text-anchor="start" fill="#000" style="font-family:'Liberation Serif',serif;font-weight:bold;" >ZFC</text>
<line x1="925.7" y1="773.5" x2="990.3" y2="773.5" stroke="#808080" stroke-width="6.5"/>
<text x="997.6" y="783.0" font-size="29.5" text-anchor="start" fill="#000" style="font-family:'Liberation Serif',serif;font-weight:bold;" >FCC</text>
<line x1="925.7" y1="810.1" x2="990.3" y2="810.1" stroke="#4fb9fa" stroke-width="6.5"/>
<text x="997.6" y="819.6" font-size="29.5" text-anchor="start" fill="#000" style="font-family:'Liberation Serif',serif;font-weight:bold;" >FCW</text>
<text x="1440.5" y="755.2" font-size="29.5" text-anchor="end" fill="#000" style="font-family:'Liberation Serif',serif;font-weight:bold;" >100 Oe</text>
<text x="1455.8" y="1143.8" font-size="32.7" text-anchor="end" fill="#000" style="font-family:'Liberation Serif',serif;font-weight:bold;" >4D printing sample</text>
<text x="-2.0" y="1282.9" font-size="40" text-anchor="start" fill="#000" style="font-family:'Liberation Sans',sans-serif;font-weight:bold;" >(</text>
<text x="40.4" y="1282.9" font-size="40" text-anchor="start" fill="#000" style="font-family:'Liberation Sans',sans-serif;font-weight:bold;" >)</text>
<text x="12.8" y="1286.9" font-size="41.4" text-anchor="start" fill="#000" style="font-family:'Liberation Sans',sans-serif;font-weight:bold;" >d</text>
<defs><linearGradient id="p1g" x1="0" y1="0" x2="0" y2="1"><stop offset="0" stop-color="#5ea6d2"/><stop offset="0.13" stop-color="#93cbe6"/><stop offset="0.2" stop-color="#e9f8fc"/><stop offset="0.38" stop-color="#dff2f8"/><stop offset="0.5" stop-color="#8db2c6"/><stop offset="0.68" stop-color="#668fa8"/><stop offset="0.8" stop-color="#3f6a84"/><stop offset="0.9" stop-color="#7aa4bb"/><stop offset="1" stop-color="#d6e8f0"/></linearGradient><linearGradient id="p3g" x1="0" y1="0" x2="0" y2="1"><stop offset="0" stop-color="#4e7b96"/><stop offset="0.4" stop-color="#5f8aa6"/><stop offset="0.5" stop-color="#e2f6fb"/><stop offset="0.58" stop-color="#7d9fb6"/><stop offset="0.7" stop-color="#7497ae"/><stop offset="0.76" stop-color="#e4f6fa"/><stop offset="0.84" stop-color="#6f95ac"/><stop offset="1" stop-color="#b5cbd6"/></linearGradient><linearGradient id="p2g" x1="0" y1="0" x2="1" y2="0"><stop offset="0" stop-color="#8a8a8a"/><stop offset="0.35" stop-color="#b4b4b4"/><stop offset="0.7" stop-color="#d8d8d8"/><stop offset="1" stop-color="#f0f0f0"/></linearGradient><linearGradient id="p4g" gradientUnits="userSpaceOnUse" x1="517" y1="0" x2="591" y2="0"><stop offset="0" stop-color="#6d8fa5"/><stop offset="0.15" stop-color="#3d6680"/><stop offset="0.55" stop-color="#2e5670"/><stop offset="0.8" stop-color="#7fa9c2"/><stop offset="1" stop-color="#d4ecf6"/></linearGradient><clipPath id="p2c"><polygon points="476.9,1396.4 504.6,1388 523.8,1391 543,1403.3 550.6,1419.5 569.8,1430.2 562.2,1454.8 523.8,1450.2 493,1442.5 481.5,1416.4"/></clipPath></defs>
<polygon points="229.5,1370 315.5,1370 313.8,1381.7 306,1410 295.5,1432 286.8,1435.6 250,1435 214.3,1428 214.3,1425 222,1400" fill="url(#p1g)"/>
<rect x="476.5" y="1385" width="100.3" height="72.9" fill="#dcdedc"/>
<polygon points="476.9,1396.4 504.6,1388 523.8,1391 543,1403.3 550.6,1419.5 569.8,1430.2 562.2,1454.8 523.8,1450.2 493,1442.5 481.5,1416.4" fill="url(#p2g)"/>
<polygon points="476.9,1396.4 500,1392 505,1405 490,1415 481.5,1416.4" fill="#7d7d7d" opacity="0.7"/>
<g clip-path="url(#p2c)"><rect x="506.8" y="1396.6" width="2.6" height="2.6" fill="rgb(204,204,204)" opacity="0.75"/><rect x="526.9" y="1411.6" width="3.5" height="3.5" fill="rgb(127,127,127)" opacity="0.75"/><rect x="479.6" y="1416.4" width="2.7" height="2.7" fill="rgb(129,129,129)" opacity="0.75"/><rect x="516.3" y="1443.9" width="2.9" height="2.9" fill="rgb(136,136,136)" opacity="0.75"/><rect x="535.6" y="1452.3" width="3.3" height="3.3" fill="rgb(195,195,195)" opacity="0.75"/><rect x="568.7" y="1389.3" width="3.1" height="3.1" fill="rgb(231,231,231)" opacity="0.75"/><rect x="489.7" y="1394.2" width="4.1" height="4.1" fill="rgb(160,160,160)" opacity="0.75"/><rect x="493.2" y="1426.7" width="3.2" height="3.2" fill="rgb(203,203,203)" opacity="0.75"/><rect x="528.0" y="1390.4" width="2.9" height="2.9" fill="rgb(127,127,127)" opacity="0.75"/><rect x="540.6" y="1415.9" width="3.7" height="3.7" fill="rgb(160,160,160)" opacity="0.75"/><rect x="519.1" y="1407.0" width="3.9" height="3.9" fill="rgb(223,223,223)" opacity="0.75"/><rect x="499.2" y="1426.2" width="4.3" height="4.3" fill="rgb(188,188,188)" opacity="0.75"/><rect x="545.3" y="1406.2" width="2.7" height="2.7" fill="rgb(247,247,247)" opacity="0.75"/><rect x="515.7" y="1439.0" width="3.5" height="3.5" fill="rgb(139,139,139)" opacity="0.75"/><rect x="479.7" y="1432.8" width="3.6" height="3.6" fill="rgb(219,219,219)" opacity="0.75"/><rect x="559.2" y="1408.0" width="3.7" height="3.7" fill="rgb(210,210,210)" opacity="0.75"/><rect x="531.1" y="1417.9" width="4.4" height="4.4" fill="rgb(229,229,229)" opacity="0.75"/><rect x="521.0" y="1432.5" width="3.9" height="3.9" fill="rgb(127,127,127)" opacity="0.75"/><rect x="537.5" y="1455.5" width="3.1" height="3.1" fill="rgb(226,226,226)" opacity="0.75"/><rect x="512.7" y="1432.8" width="3.4" height="3.4" fill="rgb(122,122,122)" opacity="0.75"/><rect x="492.0" y="1394.2" width="4.0" height="4.0" fill="rgb(127,127,127)" opacity="0.75"/><rect x="488.3" y="1403.3" width="4.2" height="4.2" fill="rgb(170,170,170)" opacity="0.75"/><rect x="483.7" y="1417.4" width="4.3" height="4.3" fill="rgb(191,191,191)" opacity="0.75"/><rect x="553.8" y="1446.5" width="3.3" height="3.3" fill="rgb(156,156,156)" opacity="0.75"/><rect x="510.1" y="1447.9" width="2.8" height="2.8" fill="rgb(244,244,244)" opacity="0.75"/><rect x="492.7" y="1402.2" width="3.5" height="3.5" fill="rgb(150,150,150)" opacity="0.75"/><rect x="532.0" y="1404.4" width="3.3" height="3.3" fill="rgb(120,120,120)" opacity="0.75"/><rect x="511.1" y="1425.6" width="3.9" height="3.9" fill="rgb(243,243,243)" opacity="0.75"/><rect x="525.0" y="1429.2" width="2.6" height="2.6" fill="rgb(207,207,207)" opacity="0.75"/><rect x="561.5" y="1440.6" width="4.1" height="4.1" fill="rgb(233,233,233)" opacity="0.75"/><rect x="513.3" y="1413.9" width="3.8" height="3.8" fill="rgb(133,133,133)" opacity="0.75"/><rect x="481.9" y="1390.7" width="2.8" height="2.8" fill="rgb(147,147,147)" opacity="0.75"/><rect x="508.3" y="1389.7" width="2.8" height="2.8" fill="rgb(120,120,120)" opacity="0.75"/><rect x="485.6" y="1411.5" width="4.2" height="4.2" fill="rgb(123,123,123)" opacity="0.75"/><rect x="534.3" y="1396.4" width="3.2" height="3.2" fill="rgb(152,152,152)" opacity="0.75"/><rect x="510.6" y="1394.6" width="4.5" height="4.5" fill="rgb(230,230,230)" opacity="0.75"/><rect x="520.3" y="1419.9" width="2.7" height="2.7" fill="rgb(131,131,131)" opacity="0.75"/><rect x="508.6" y="1404.5" width="2.8" height="2.8" fill="rgb(227,227,227)" opacity="0.75"/><rect x="478.2" y="1452.6" width="2.8" height="2.8" fill="rgb(188,188,188)" opacity="0.75"/><rect x="527.6" y="1387.9" width="4.5" height="4.5" fill="rgb(188,188,188)" opacity="0.75"/><rect x="558.0" y="1434.7" width="3.2" height="3.2" fill="rgb(153,153,153)" opacity="0.75"/><rect x="491.9" y="1440.0" width="4.1" height="4.1" fill="rgb(189,189,189)" opacity="0.75"/><rect x="507.3" y="1401.6" width="4.5" height="4.5" fill="rgb(225,225,225)" opacity="0.75"/><rect x="557.0" y="1442.4" width="4.0" height="4.0" fill="rgb(226,226,226)" opacity="0.75"/><rect x="497.5" y="1422.2" width="2.6" height="2.6" fill="rgb(166,166,166)" opacity="0.75"/><rect x="478.7" y="1405.6" width="3.9" height="3.9" fill="rgb(153,153,153)" opacity="0.75"/><rect x="566.9" y="1417.3" width="4.5" height="4.5" fill="rgb(241,241,241)" opacity="0.75"/><rect x="566.7" y="1411.5" width="3.0" height="3.0" fill="rgb(148,148,148)" opacity="0.75"/><rect x="494.7" y="1400.3" width="4.3" height="4.3" fill="rgb(201,201,201)" opacity="0.75"/><rect x="555.8" y="1419.6" width="4.1" height="4.1" fill="rgb(204,204,204)" opacity="0.75"/><rect x="484.1" y="1432.2" width="4.1" height="4.1" fill="rgb(238,238,238)" opacity="0.75"/><rect x="547.3" y="1419.5" width="4.1" height="4.1" fill="rgb(143,143,143)" opacity="0.75"/><rect x="507.6" y="1442.1" width="3.3" height="3.3" fill="rgb(246,246,246)" opacity="0.75"/><rect x="514.1" y="1452.3" width="2.8" height="2.8" fill="rgb(214,214,214)" opacity="0.75"/><rect x="488.1" y="1396.6" width="4.1" height="4.1" fill="rgb(237,237,237)" opacity="0.75"/><rect x="489.9" y="1443.9" width="3.8" height="3.8" fill="rgb(247,247,247)" opacity="0.75"/><rect x="509.3" y="1424.4" width="2.5" height="2.5" fill="rgb(137,137,137)" opacity="0.75"/><rect x="568.2" y="1431.5" width="4.4" height="4.4" fill="rgb(188,188,188)" opacity="0.75"/><rect x="517.2" y="1447.0" width="2.9" height="2.9" fill="rgb(227,227,227)" opacity="0.75"/><rect x="499.9" y="1406.5" width="3.7" height="3.7" fill="rgb(151,151,151)" opacity="0.75"/><rect x="500.6" y="1415.3" width="4.3" height="4.3" fill="rgb(137,137,137)" opacity="0.75"/><rect x="509.6" y="1418.1" width="4.3" height="4.3" fill="rgb(195,195,195)" opacity="0.75"/><rect x="516.0" y="1450.2" width="3.6" height="3.6" fill="rgb(185,185,185)" opacity="0.75"/><rect x="525.7" y="1387.3" width="2.9" height="2.9" fill="rgb(177,177,177)" opacity="0.75"/><rect x="476.4" y="1441.9" width="3.4" height="3.4" fill="rgb(142,142,142)" opacity="0.75"/><rect x="544.9" y="1425.0" width="3.5" height="3.5" fill="rgb(162,162,162)" opacity="0.75"/><rect x="528.8" y="1440.9" width="3.6" height="3.6" fill="rgb(133,133,133)" opacity="0.75"/><rect x="499.6" y="1405.4" width="3.5" height="3.5" fill="rgb(220,220,220)" opacity="0.75"/><rect x="529.4" y="1439.2" width="3.4" height="3.4" fill="rgb(238,238,238)" opacity="0.75"/><rect x="534.2" y="1421.4" width="3.9" height="3.9" fill="rgb(186,186,186)" opacity="0.75"/><rect x="519.0" y="1423.3" width="4.4" height="4.4" fill="rgb(182,182,182)" opacity="0.75"/><rect x="542.4" y="1447.4" width="3.0" height="3.0" fill="rgb(242,242,242)" opacity="0.75"/><rect x="529.2" y="1452.0" width="2.8" height="2.8" fill="rgb(229,229,229)" opacity="0.75"/><rect x="487.6" y="1416.9" width="3.0" height="3.0" fill="rgb(129,129,129)" opacity="0.75"/><rect x="482.9" y="1432.9" width="4.3" height="4.3" fill="rgb(221,221,221)" opacity="0.75"/><rect x="490.7" y="1436.1" width="2.8" height="2.8" fill="rgb(205,205,205)" opacity="0.75"/><rect x="559.9" y="1453.7" width="4.4" height="4.4" fill="rgb(148,148,148)" opacity="0.75"/><rect x="513.8" y="1420.1" width="4.2" height="4.2" fill="rgb(248,248,248)" opacity="0.75"/><rect x="491.3" y="1416.2" width="3.2" height="3.2" fill="rgb(187,187,187)" opacity="0.75"/><rect x="494.6" y="1408.3" width="2.5" height="2.5" fill="rgb(213,213,213)" opacity="0.75"/><rect x="528.6" y="1416.8" width="3.2" height="3.2" fill="rgb(122,122,122)" opacity="0.75"/><rect x="535.3" y="1421.9" width="4.5" height="4.5" fill="rgb(128,128,128)" opacity="0.75"/><rect x="550.9" y="1454.0" width="3.0" height="3.0" fill="rgb(133,133,133)" opacity="0.75"/><rect x="479.8" y="1440.5" width="2.8" height="2.8" fill="rgb(155,155,155)" opacity="0.75"/><rect x="516.1" y="1449.8" width="3.0" height="3.0" fill="rgb(226,226,226)" opacity="0.75"/><rect x="490.2" y="1450.3" width="3.9" height="3.9" fill="rgb(194,194,194)" opacity="0.75"/><rect x="484.5" y="1390.0" width="3.4" height="3.4" fill="rgb(209,209,209)" opacity="0.75"/><rect x="482.9" y="1451.7" width="4.1" height="4.1" fill="rgb(202,202,202)" opacity="0.75"/><rect x="484.0" y="1445.9" width="4.2" height="4.2" fill="rgb(128,128,128)" opacity="0.75"/><rect x="519.1" y="1409.7" width="4.4" height="4.4" fill="rgb(191,191,191)" opacity="0.75"/><rect x="501.4" y="1395.0" width="3.0" height="3.0" fill="rgb(188,188,188)" opacity="0.75"/><rect x="486.4" y="1397.3" width="2.9" height="2.9" fill="rgb(126,126,126)" opacity="0.75"/><rect x="505.6" y="1407.4" width="3.1" height="3.1" fill="rgb(218,218,218)" opacity="0.75"/><rect x="523.5" y="1398.5" width="2.5" height="2.5" fill="rgb(165,165,165)" opacity="0.75"/><rect x="499.8" y="1387.1" width="3.6" height="3.6" fill="rgb(215,215,215)" opacity="0.75"/><rect x="494.0" y="1419.2" width="2.7" height="2.7" fill="rgb(241,241,241)" opacity="0.75"/><rect x="553.8" y="1416.3" width="4.2" height="4.2" fill="rgb(184,184,184)" opacity="0.75"/><rect x="513.3" y="1421.5" width="4.5" height="4.5" fill="rgb(209,209,209)" opacity="0.75"/><rect x="508.6" y="1444.3" width="3.8" height="3.8" fill="rgb(211,211,211)" opacity="0.75"/><rect x="514.4" y="1410.3" width="2.8" height="2.8" fill="rgb(127,127,127)" opacity="0.75"/><rect x="482.7" y="1437.9" width="2.8" height="2.8" fill="rgb(153,153,153)" opacity="0.75"/><rect x="484.0" y="1444.9" width="3.8" height="3.8" fill="rgb(233,233,233)" opacity="0.75"/><rect x="502.8" y="1403.0" width="3.4" height="3.4" fill="rgb(158,158,158)" opacity="0.75"/><rect x="491.0" y="1417.2" width="4.4" height="4.4" fill="rgb(154,154,154)" opacity="0.75"/><rect x="568.4" y="1424.3" width="4.4" height="4.4" fill="rgb(151,151,151)" opacity="0.75"/><rect x="505.4" y="1411.0" width="3.3" height="3.3" fill="rgb(120,120,120)" opacity="0.75"/><rect x="521.1" y="1421.2" width="3.5" height="3.5" fill="rgb(146,146,146)" opacity="0.75"/><rect x="476.5" y="1404.5" width="3.3" height="3.3" fill="rgb(131,131,131)" opacity="0.75"/><rect x="480.0" y="1387.6" width="3.0" height="3.0" fill="rgb(159,159,159)" opacity="0.75"/><rect x="531.6" y="1423.0" width="3.8" height="3.8" fill="rgb(217,217,217)" opacity="0.75"/><rect x="544.0" y="1447.5" width="3.2" height="3.2" fill="rgb(170,170,170)" opacity="0.75"/><rect x="569.5" y="1396.5" width="3.8" height="3.8" fill="rgb(214,214,214)" opacity="0.75"/><rect x="480.2" y="1444.5" width="3.8" height="3.8" fill="rgb(235,235,235)" opacity="0.75"/><rect x="545.7" y="1442.9" width="3.5" height="3.5" fill="rgb(138,138,138)" opacity="0.75"/><rect x="523.9" y="1444.4" width="4.2" height="4.2" fill="rgb(224,224,224)" opacity="0.75"/><rect x="531.5" y="1448.5" width="3.9" height="3.9" fill="rgb(208,208,208)" opacity="0.75"/><rect x="497.8" y="1388.2" width="3.2" height="3.2" fill="rgb(137,137,137)" opacity="0.75"/><rect x="486.0" y="1444.5" width="3.8" height="3.8" fill="rgb(192,192,192)" opacity="0.75"/><rect x="535.5" y="1433.6" width="2.5" height="2.5" fill="rgb(183,183,183)" opacity="0.75"/><rect x="551.8" y="1438.4" width="3.6" height="3.6" fill="rgb(185,185,185)" opacity="0.75"/><rect x="538.6" y="1390.6" width="3.0" height="3.0" fill="rgb(215,215,215)" opacity="0.75"/><rect x="483.1" y="1404.6" width="2.9" height="2.9" fill="rgb(214,214,214)" opacity="0.75"/><rect x="546.3" y="1454.3" width="3.3" height="3.3" fill="rgb(184,184,184)" opacity="0.75"/><rect x="521.5" y="1433.9" width="3.7" height="3.7" fill="rgb(219,219,219)" opacity="0.75"/><rect x="537.1" y="1391.4" width="3.0" height="3.0" fill="rgb(139,139,139)" opacity="0.75"/><rect x="546.6" y="1407.3" width="2.5" height="2.5" fill="rgb(193,193,193)" opacity="0.75"/><rect x="481.8" y="1404.8" width="3.9" height="3.9" fill="rgb(207,207,207)" opacity="0.75"/><rect x="540.2" y="1406.4" width="3.4" height="3.4" fill="rgb(187,187,187)" opacity="0.75"/><rect x="520.3" y="1394.3" width="2.9" height="2.9" fill="rgb(236,236,236)" opacity="0.75"/><rect x="568.9" y="1451.5" width="3.4" height="3.4" fill="rgb(122,122,122)" opacity="0.75"/><rect x="553.9" y="1453.8" width="3.0" height="3.0" fill="rgb(178,178,178)" opacity="0.75"/><rect x="495.9" y="1452.2" width="3.7" height="3.7" fill="rgb(147,147,147)" opacity="0.75"/><rect x="489.5" y="1422.7" width="2.8" height="2.8" fill="rgb(243,243,243)" opacity="0.75"/><rect x="553.9" y="1421.6" width="3.9" height="3.9" fill="rgb(235,235,235)" opacity="0.75"/><rect x="498.0" y="1448.8" width="2.5" height="2.5" fill="rgb(183,183,183)" opacity="0.75"/><rect x="476.3" y="1420.4" width="3.1" height="3.1" fill="rgb(178,178,178)" opacity="0.75"/><rect x="489.4" y="1410.1" width="4.2" height="4.2" fill="rgb(161,161,161)" opacity="0.75"/><rect x="476.2" y="1438.6" width="2.7" height="2.7" fill="rgb(229,229,229)" opacity="0.75"/><rect x="564.0" y="1435.9" width="3.1" height="3.1" fill="rgb(237,237,237)" opacity="0.75"/><rect x="511.4" y="1413.5" width="3.7" height="3.7" fill="rgb(249,249,249)" opacity="0.75"/><rect x="510.3" y="1416.0" width="2.6" height="2.6" fill="rgb(155,155,155)" opacity="0.75"/><rect x="485.7" y="1444.4" width="4.4" height="4.4" fill="rgb(157,157,157)" opacity="0.75"/><rect x="499.7" y="1404.6" width="2.9" height="2.9" fill="rgb(186,186,186)" opacity="0.75"/><rect x="511.5" y="1452.9" width="4.1" height="4.1" fill="rgb(234,234,234)" opacity="0.75"/><rect x="535.9" y="1449.9" width="3.6" height="3.6" fill="rgb(242,242,242)" opacity="0.75"/><rect x="544.4" y="1389.5" width="3.4" height="3.4" fill="rgb(215,215,215)" opacity="0.75"/><rect x="547.5" y="1431.1" width="2.6" height="2.6" fill="rgb(157,157,157)" opacity="0.75"/><rect x="564.0" y="1394.9" width="3.2" height="3.2" fill="rgb(181,181,181)" opacity="0.75"/><rect x="504.3" y="1437.7" width="3.0" height="3.0" fill="rgb(246,246,246)" opacity="0.75"/><rect x="538.3" y="1407.1" width="3.3" height="3.3" fill="rgb(192,192,192)" opacity="0.75"/><rect x="491.9" y="1397.3" width="4.3" height="4.3" fill="rgb(147,147,147)" opacity="0.75"/><rect x="523.2" y="1401.4" width="4.5" height="4.5" fill="rgb(237,237,237)" opacity="0.75"/><rect x="518.7" y="1395.8" width="2.7" height="2.7" fill="rgb(145,145,145)" opacity="0.75"/><rect x="508.5" y="1392.4" width="3.0" height="3.0" fill="rgb(151,151,151)" opacity="0.75"/><rect x="530.1" y="1448.1" width="3.3" height="3.3" fill="rgb(217,217,217)" opacity="0.75"/><rect x="515.3" y="1422.7" width="3.2" height="3.2" fill="rgb(168,168,168)" opacity="0.75"/><rect x="481.9" y="1405.4" width="2.8" height="2.8" fill="rgb(245,245,245)" opacity="0.75"/><rect x="523.8" y="1430.1" width="2.9" height="2.9" fill="rgb(232,232,232)" opacity="0.75"/><rect x="501.7" y="1403.4" width="3.4" height="3.4" fill="rgb(171,171,171)" opacity="0.75"/><rect x="566.6" y="1445.4" width="2.5" height="2.5" fill="rgb(233,233,233)" opacity="0.75"/><rect x="479.1" y="1435.7" width="3.4" height="3.4" fill="rgb(236,236,236)" opacity="0.75"/><rect x="531.8" y="1386.0" width="4.4" height="4.4" fill="rgb(170,170,170)" opacity="0.75"/><rect x="554.4" y="1445.9" width="3.0" height="3.0" fill="rgb(246,246,246)" opacity="0.75"/><rect x="486.4" y="1396.8" width="3.9" height="3.9" fill="rgb(187,187,187)" opacity="0.75"/><rect x="565.4" y="1436.5" width="4.0" height="4.0" fill="rgb(204,204,204)" opacity="0.75"/><rect x="519.4" y="1424.6" width="4.1" height="4.1" fill="rgb(125,125,125)" opacity="0.75"/><rect x="498.1" y="1450.4" width="3.1" height="3.1" fill="rgb(203,203,203)" opacity="0.75"/><rect x="488.2" y="1403.6" width="3.9" height="3.9" fill="rgb(202,202,202)" opacity="0.75"/><rect x="486.7" y="1390.9" width="3.7" height="3.7" fill="rgb(188,188,188)" opacity="0.75"/><rect x="512.9" y="1401.7" width="2.5" height="2.5" fill="rgb(198,198,198)" opacity="0.75"/><rect x="504.6" y="1418.2" width="3.8" height="3.8" fill="rgb(244,244,244)" opacity="0.75"/><rect x="560.0" y="1419.3" width="3.0" height="3.0" fill="rgb(150,150,150)" opacity="0.75"/><rect x="567.3" y="1435.3" width="2.5" height="2.5" fill="rgb(159,159,159)" opacity="0.75"/><rect x="523.3" y="1433.2" width="3.0" height="3.0" fill="rgb(174,174,174)" opacity="0.75"/><rect x="539.4" y="1450.8" width="2.6" height="2.6" fill="rgb(149,149,149)" opacity="0.75"/><rect x="508.1" y="1415.4" width="2.9" height="2.9" fill="rgb(208,208,208)" opacity="0.75"/><rect x="551.7" y="1437.7" width="2.9" height="2.9" fill="rgb(185,185,185)" opacity="0.75"/><rect x="568.1" y="1407.8" width="3.0" height="3.0" fill="rgb(226,226,226)" opacity="0.75"/><rect x="497.0" y="1439.2" width="4.4" height="4.4" fill="rgb(158,158,158)" opacity="0.75"/><rect x="523.1" y="1399.1" width="3.3" height="3.3" fill="rgb(149,149,149)" opacity="0.75"/><rect x="539.2" y="1452.4" width="3.3" height="3.3" fill="rgb(139,139,139)" opacity="0.75"/><rect x="496.2" y="1454.2" width="2.6" height="2.6" fill="rgb(138,138,138)" opacity="0.75"/><rect x="481.7" y="1413.5" width="4.3" height="4.3" fill="rgb(236,236,236)" opacity="0.75"/><rect x="545.6" y="1455.8" width="3.2" height="3.2" fill="rgb(241,241,241)" opacity="0.75"/><rect x="493.6" y="1451.5" width="2.6" height="2.6" fill="rgb(217,217,217)" opacity="0.75"/><rect x="539.1" y="1412.5" width="3.2" height="3.2" fill="rgb(168,168,168)" opacity="0.75"/><rect x="492.1" y="1386.2" width="3.2" height="3.2" fill="rgb(156,156,156)" opacity="0.75"/><rect x="566.8" y="1394.7" width="2.9" height="2.9" fill="rgb(245,245,245)" opacity="0.75"/><rect x="509.9" y="1443.5" width="3.4" height="3.4" fill="rgb(226,226,226)" opacity="0.75"/><rect x="480.7" y="1419.1" width="4.3" height="4.3" fill="rgb(168,168,168)" opacity="0.75"/><rect x="494.3" y="1411.5" width="2.6" height="2.6" fill="rgb(236,236,236)" opacity="0.75"/><rect x="515.0" y="1442.8" width="2.6" height="2.6" fill="rgb(219,219,219)" opacity="0.75"/><rect x="479.3" y="1390.4" width="3.0" height="3.0" fill="rgb(239,239,239)" opacity="0.75"/><rect x="547.0" y="1448.9" width="3.0" height="3.0" fill="rgb(164,164,164)" opacity="0.75"/><rect x="567.0" y="1429.2" width="3.9" height="3.9" fill="rgb(154,154,154)" opacity="0.75"/><rect x="506.1" y="1405.3" width="4.0" height="4.0" fill="rgb(120,120,120)" opacity="0.75"/><rect x="563.1" y="1430.4" width="2.5" height="2.5" fill="rgb(242,242,242)" opacity="0.75"/><rect x="498.2" y="1419.3" width="4.4" height="4.4" fill="rgb(244,244,244)" opacity="0.75"/><rect x="512.7" y="1403.6" width="3.5" height="3.5" fill="rgb(175,175,175)" opacity="0.75"/><rect x="564.2" y="1398.8" width="4.0" height="4.0" fill="rgb(224,224,224)" opacity="0.75"/><rect x="554.2" y="1440.1" width="3.2" height="3.2" fill="rgb(198,198,198)" opacity="0.75"/><rect x="506.4" y="1411.3" width="2.7" height="2.7" fill="rgb(221,221,221)" opacity="0.75"/><rect x="494.7" y="1438.7" width="2.6" height="2.6" fill="rgb(152,152,152)" opacity="0.75"/><rect x="479.2" y="1424.7" width="4.5" height="4.5" fill="rgb(162,162,162)" opacity="0.75"/><rect x="559.9" y="1455.1" width="2.7" height="2.7" fill="rgb(154,154,154)" opacity="0.75"/><rect x="485.2" y="1420.9" width="3.4" height="3.4" fill="rgb(212,212,212)" opacity="0.75"/><rect x="498.2" y="1415.2" width="3.8" height="3.8" fill="rgb(200,200,200)" opacity="0.75"/><rect x="547.1" y="1445.3" width="2.7" height="2.7" fill="rgb(206,206,206)" opacity="0.75"/><rect x="555.9" y="1406.6" width="3.2" height="3.2" fill="rgb(193,193,193)" opacity="0.75"/><rect x="546.1" y="1399.9" width="3.0" height="3.0" fill="rgb(152,152,152)" opacity="0.75"/><rect x="490.6" y="1447.9" width="3.2" height="3.2" fill="rgb(195,195,195)" opacity="0.75"/><rect x="513.6" y="1455.5" width="3.0" height="3.0" fill="rgb(185,185,185)" opacity="0.75"/><rect x="552.8" y="1431.7" width="2.7" height="2.7" fill="rgb(248,248,248)" opacity="0.75"/><rect x="521.1" y="1443.3" width="4.3" height="4.3" fill="rgb(229,229,229)" opacity="0.75"/><rect x="479.8" y="1406.6" width="2.9" height="2.9" fill="rgb(135,135,135)" opacity="0.75"/><rect x="568.4" y="1426.8" width="3.2" height="3.2" fill="rgb(240,240,240)" opacity="0.75"/><rect x="558.3" y="1417.4" width="4.1" height="4.1" fill="rgb(153,153,153)" opacity="0.75"/><rect x="565.8" y="1393.4" width="3.7" height="3.7" fill="rgb(197,197,197)" opacity="0.75"/><rect x="496.7" y="1411.8" width="2.9" height="2.9" fill="rgb(138,138,138)" opacity="0.75"/><rect x="500.2" y="1428.0" width="2.9" height="2.9" fill="rgb(204,204,204)" opacity="0.75"/><rect x="477.1" y="1408.9" width="2.9" height="2.9" fill="rgb(208,208,208)" opacity="0.75"/><rect x="505.7" y="1400.2" width="3.6" height="3.6" fill="rgb(223,223,223)" opacity="0.75"/><rect x="482.0" y="1393.1" width="3.6" height="3.6" fill="rgb(171,171,171)" opacity="0.75"/><rect x="536.7" y="1392.4" width="3.9" height="3.9" fill="rgb(141,141,141)" opacity="0.75"/><rect x="514.9" y="1405.8" width="4.4" height="4.4" fill="rgb(159,159,159)" opacity="0.75"/><rect x="505.7" y="1425.7" width="3.3" height="3.3" fill="rgb(166,166,166)" opacity="0.75"/><rect x="558.1" y="1455.8" width="2.9" height="2.9" fill="rgb(167,167,167)" opacity="0.75"/><rect x="545.2" y="1400.3" width="4.3" height="4.3" fill="rgb(120,120,120)" opacity="0.75"/><rect x="516.3" y="1443.4" width="4.3" height="4.3" fill="rgb(172,172,172)" opacity="0.75"/><rect x="519.8" y="1397.4" width="3.6" height="3.6" fill="rgb(121,121,121)" opacity="0.75"/><rect x="536.9" y="1449.7" width="3.7" height="3.7" fill="rgb(131,131,131)" opacity="0.75"/><rect x="511.2" y="1421.3" width="3.1" height="3.1" fill="rgb(138,138,138)" opacity="0.75"/><rect x="525.5" y="1450.8" width="3.5" height="3.5" fill="rgb(134,134,134)" opacity="0.75"/><rect x="552.5" y="1453.7" width="2.8" height="2.8" fill="rgb(145,145,145)" opacity="0.75"/><rect x="565.6" y="1454.3" width="2.6" height="2.6" fill="rgb(182,182,182)" opacity="0.75"/><rect x="564.0" y="1413.2" width="3.7" height="3.7" fill="rgb(237,237,237)" opacity="0.75"/><rect x="554.3" y="1397.2" width="2.9" height="2.9" fill="rgb(222,222,222)" opacity="0.75"/><rect x="514.4" y="1445.2" width="2.9" height="2.9" fill="rgb(227,227,227)" opacity="0.75"/><rect x="496.7" y="1414.0" width="3.3" height="3.3" fill="rgb(187,187,187)" opacity="0.75"/><rect x="487.7" y="1403.3" width="4.3" height="4.3" fill="rgb(214,214,214)" opacity="0.75"/><rect x="479.9" y="1425.4" width="2.6" height="2.6" fill="rgb(218,218,218)" opacity="0.75"/><rect x="555.6" y="1394.2" width="3.6" height="3.6" fill="rgb(197,197,197)" opacity="0.75"/><rect x="535.6" y="1407.4" width="3.7" height="3.7" fill="rgb(174,174,174)" opacity="0.75"/><rect x="516.4" y="1432.1" width="3.4" height="3.4" fill="rgb(178,178,178)" opacity="0.75"/><rect x="478.2" y="1429.3" width="3.0" height="3.0" fill="rgb(183,183,183)" opacity="0.75"/><rect x="548.5" y="1440.6" width="2.9" height="2.9" fill="rgb(179,179,179)" opacity="0.75"/><rect x="521.0" y="1393.5" width="3.4" height="3.4" fill="rgb(136,136,136)" opacity="0.75"/><rect x="484.7" y="1416.9" width="2.6" height="2.6" fill="rgb(186,186,186)" opacity="0.75"/><rect x="536.5" y="1391.8" width="4.1" height="4.1" fill="rgb(215,215,215)" opacity="0.75"/><rect x="524.6" y="1389.8" width="3.3" height="3.3" fill="rgb(185,185,185)" opacity="0.75"/><rect x="566.3" y="1395.5" width="4.5" height="4.5" fill="rgb(231,231,231)" opacity="0.75"/><rect x="545.5" y="1443.0" width="4.5" height="4.5" fill="rgb(145,145,145)" opacity="0.75"/><rect x="522.7" y="1453.0" width="2.8" height="2.8" fill="rgb(239,239,239)" opacity="0.75"/><rect x="550.9" y="1451.1" width="3.2" height="3.2" fill="rgb(128,128,128)" opacity="0.75"/><rect x="547.8" y="1397.1" width="3.0" height="3.0" fill="rgb(236,236,236)" opacity="0.75"/><rect x="553.5" y="1396.1" width="4.3" height="4.3" fill="rgb(185,185,185)" opacity="0.75"/><rect x="495.8" y="1404.4" width="3.1" height="3.1" fill="rgb(185,185,185)" opacity="0.75"/><rect x="479.5" y="1398.7" width="4.4" height="4.4" fill="rgb(140,140,140)" opacity="0.75"/><rect x="540.6" y="1448.7" width="4.1" height="4.1" fill="rgb(141,141,141)" opacity="0.75"/><rect x="486.9" y="1423.2" width="3.2" height="3.2" fill="rgb(202,202,202)" opacity="0.75"/></g>
<path d="M521,1448 C528,1452 540,1453 562,1455" stroke="#555" stroke-width="2.5" fill="none" opacity="0.7"/>
<rect x="477" y="1452" width="8" height="5" fill="#444" opacity="0.6"/>
<polygon points="255.6,1681 268.8,1681 309,1745 309,1751.6 222.9,1751.6 222.9,1737" fill="url(#p3g)"/>
<line x1="257" y1="1685" x2="226" y2="1737" stroke="#e6f6fa" stroke-width="4" opacity="0.75"/>
<path d="M519,1686 C521,1697 527,1709 540,1722 C550,1731 565,1738 590.9,1739.5 L590.9,1732.5 C575,1730 562,1724 551.1,1716 C543,1710 538,1704 535.2,1700 C530,1692 527,1685 525.5,1680 C522,1679 520,1681 519,1686 Z" fill="url(#p4g)"/>
<path d="M526.3,1681 C528,1687 531,1693 535.2,1700.4 C538,1704 543,1709 551.1,1716.4 C560,1723 575,1731 590.9,1734" stroke="#c4e4f3" stroke-width="3" fill="none" opacity="0.85"/>
<rect x="528" y="1686" width="3" height="6" fill="#1a1a1a"/>
<line x1="262.7" y1="1443.6" x2="262.7" y2="1580" stroke="#808080" stroke-width="5.8"/>
<polyline points="249.2,1555 262.7,1580 276.2,1555" fill="none" stroke="#808080" stroke-width="5.8" stroke-linecap="round" stroke-linejoin="miter"/>
<line x1="262.8" y1="1679.3" x2="262.8" y2="1624" stroke="#808080" stroke-width="5.8"/>
<polyline points="249.3,1649 262.8,1624 276.3,1649" fill="none" stroke="#808080" stroke-width="5.8" stroke-linecap="round" stroke-linejoin="miter"/>
<line x1="529.6" y1="1464.3" x2="529.6" y2="1523.5" stroke="#808080" stroke-width="5.8"/>
<polyline points="516.1,1497.5 529.6,1523.5 543.1,1497.5" fill="none" stroke="#808080" stroke-width="5.8" stroke-linecap="round" stroke-linejoin="miter"/>
<line x1="527" y1="1676.8" x2="527" y2="1605" stroke="#808080" stroke-width="5.8"/>
<polyline points="514.5,1629 527,1605 539.5,1629" fill="none" stroke="#808080" stroke-width="5.8" stroke-linecap="round" stroke-linejoin="miter"/>
<path d="M182.6,1513.9 C187.8,1515.0 201.5,1518.0 213.8,1520.5 C226.1,1523.0 241.9,1525.5 256.3,1528.6 C270.7,1531.7 287.8,1536.0 300.0,1539.0 C312.2,1542.0 320.8,1544.2 329.5,1546.8 C338.2,1549.4 344.0,1552.4 352.1,1554.6 C360.2,1556.8 371.6,1560.4 378.2,1559.8 C384.8,1559.2 388.5,1555.4 392.0,1551.1 C395.5,1546.8 396.7,1540.7 399.0,1533.8 C401.3,1526.9 403.3,1516.7 405.9,1509.5 C408.5,1502.3 411.4,1493.9 414.6,1490.4 C417.8,1486.9 421.2,1489.2 425.0,1488.6 C428.8,1488.0 433.4,1489.2 437.2,1486.9 C441.0,1484.6 444.1,1478.8 447.6,1474.7 C451.1,1470.7 454.8,1463.5 458.0,1462.6 C461.2,1461.7 464.1,1464.0 466.7,1469.5 C469.3,1475.0 471.4,1487.2 473.7,1495.6 C476.0,1504.0 478.0,1513.0 480.6,1519.9 C483.2,1526.9 485.5,1534.1 489.3,1537.3 C493.1,1540.5 497.1,1539.9 503.2,1539.0 C509.3,1538.1 517.8,1534.6 525.8,1532.0 C533.8,1529.4 539.7,1527.4 550.9,1523.6 C562.1,1519.8 579.0,1513.1 593.0,1508.9 C607.0,1504.7 621.0,1501.7 635.0,1498.3 C649.0,1494.9 665.5,1490.8 677.1,1488.7 C688.7,1486.6 699.9,1486.2 704.5,1485.7" fill="none" stroke="#4fb9fa" stroke-width="6.3" stroke-linecap="round" stroke-linejoin="round"/>
<path d="M182.6,1630.0 C187.9,1629.8 201.9,1629.7 214.2,1628.8 C226.5,1627.9 242.3,1625.6 256.3,1624.6 C270.3,1623.5 285.3,1623.0 298.4,1622.5 C311.5,1622.0 324.3,1622.2 334.7,1621.5 C345.1,1620.8 353.3,1619.6 360.8,1618.0 C368.3,1616.4 374.7,1615.5 379.9,1611.9 C385.1,1608.3 388.5,1602.4 392.0,1596.3 C395.5,1590.2 397.5,1585.3 400.7,1575.5 C403.9,1565.7 407.6,1548.9 411.1,1537.3 C414.6,1525.7 417.8,1513.5 421.6,1506.0 C425.4,1498.5 429.6,1494.8 433.7,1492.1 C437.8,1489.3 442.1,1488.6 445.9,1489.5 C449.7,1490.4 452.8,1491.1 456.3,1497.3 C459.8,1503.5 463.2,1516.1 466.7,1526.8 C470.2,1537.5 472.8,1553.1 477.1,1561.6 C481.5,1570.1 487.0,1574.0 492.8,1577.7 C498.6,1581.5 506.1,1583.3 512.0,1584.1 C517.9,1584.9 517.4,1584.0 528.1,1582.5 C538.8,1581.0 560.2,1577.8 576.2,1575.3 C592.2,1572.8 608.3,1569.7 624.3,1567.3 C640.3,1564.9 659.2,1562.5 672.4,1560.8 C685.6,1559.1 698.4,1557.9 703.6,1557.3" fill="none" stroke="#c80000" stroke-width="6.3" stroke-linecap="round" stroke-linejoin="round"/>
<path d="M182.6,1588.0 C191.4,1588.0 219.4,1587.5 235.2,1588.0 C251.0,1588.5 266.5,1590.0 277.3,1591.0 C288.1,1592.0 291.9,1592.5 300.0,1593.7 C308.1,1594.9 318.5,1596.7 326.0,1598.0 C333.5,1599.3 338.8,1601.1 345.2,1601.5 C351.6,1601.9 358.8,1601.9 364.3,1600.6 C369.8,1599.3 374.1,1597.0 378.2,1593.7 C382.2,1590.4 385.4,1586.6 388.6,1580.7 C391.8,1574.8 394.1,1567.9 397.3,1558.1 C400.5,1548.2 404.2,1530.9 407.7,1521.6 C411.2,1512.3 414.1,1507.4 418.1,1502.5 C422.2,1497.6 427.7,1494.3 432.0,1492.1 C436.3,1489.9 440.1,1489.5 444.1,1489.5 C448.2,1489.5 452.8,1488.8 456.3,1492.1 C459.8,1495.4 462.1,1501.4 465.0,1509.5 C467.9,1517.6 471.2,1532.6 473.7,1540.7 C476.2,1548.8 477.6,1552.6 480.0,1558.0 C482.4,1563.4 484.8,1568.2 488.0,1573.0 C491.2,1577.8 495.2,1583.5 499.2,1586.5 C503.2,1589.5 507.2,1590.8 512.0,1591.3 C516.8,1591.8 522.2,1590.6 528.1,1589.7 C534.0,1588.8 539.3,1587.7 547.3,1585.7 C555.3,1583.7 563.4,1580.2 576.2,1577.7 C589.0,1575.2 608.3,1572.5 624.3,1570.5 C640.3,1568.5 659.4,1566.8 672.4,1565.7 C685.4,1564.6 697.1,1564.3 702.0,1564.0" fill="none" stroke="#404040" stroke-width="6.5" stroke-linecap="round" stroke-linejoin="round"/>
<path d="M182.6,1623.8 C191.4,1622.9 219.4,1619.6 235.2,1618.3 C251.0,1617.0 266.5,1617.0 277.3,1616.2 C288.1,1615.4 289.9,1614.6 300.0,1613.7 C310.1,1612.8 327.5,1612.5 338.2,1611.1 C348.9,1609.6 356.8,1607.8 364.3,1605.0 C371.8,1602.2 377.9,1599.2 383.4,1594.6 C388.9,1590.0 393.2,1585.0 397.3,1577.2 C401.4,1569.4 404.2,1558.1 407.7,1547.7 C411.2,1537.3 414.6,1523.4 418.1,1514.7 C421.6,1506.0 424.2,1500.2 428.5,1495.6 C432.8,1491.0 440.1,1487.5 444.1,1486.9 C448.2,1486.3 449.9,1487.5 452.8,1492.1 C455.7,1496.7 458.3,1504.9 461.5,1514.7 C464.7,1524.5 468.8,1541.7 471.9,1551.1 C475.0,1560.5 476.0,1564.0 480.0,1571.0 C484.0,1578.0 489.3,1588.2 496.0,1592.9 C502.7,1597.6 509.4,1597.8 520.1,1599.3 C530.8,1600.8 545.5,1601.6 560.2,1601.7 C574.9,1601.8 592.3,1600.5 608.3,1600.1 C624.3,1599.7 640.5,1599.7 656.3,1599.3 C672.0,1598.9 695.0,1598.0 702.8,1597.7" fill="none" stroke="#ff7f00" stroke-width="6.3" stroke-linecap="round" stroke-linejoin="round"/>
<rect x="133.3" y="1305.1" width="610.7" height="490.9" fill="none" stroke="#000" stroke-width="4"/>
<text x="122.4" y="1316.0" font-size="34.5" text-anchor="end" fill="#000" style="font-family:'Liberation Serif',serif;font-weight:bold;" >60</text>
<line x1="133.3" y1="1366.1" x2="143.3" y2="1366.1" stroke="#000" stroke-width="4"/>
<text x="122.4" y="1377.1" font-size="34.5" text-anchor="end" fill="#000" style="font-family:'Liberation Serif',serif;font-weight:bold;" >40</text>
<line x1="133.3" y1="1427.2" x2="143.3" y2="1427.2" stroke="#000" stroke-width="4"/>
<text x="122.4" y="1438.2" font-size="34.5" text-anchor="end" fill="#000" style="font-family:'Liberation Serif',serif;font-weight:bold;" >20</text>
<line x1="133.3" y1="1488.3" x2="143.3" y2="1488.3" stroke="#000" stroke-width="4"/>
<text x="122.4" y="1499.3" font-size="34.5" text-anchor="end" fill="#000" style="font-family:'Liberation Serif',serif;font-weight:bold;" >0</text>
<line x1="133.3" y1="1549.4" x2="143.3" y2="1549.4" stroke="#000" stroke-width="4"/>
<text x="122.4" y="1560.4" font-size="34.5" text-anchor="end" fill="#000" style="font-family:'Liberation Serif',serif;font-weight:bold;" >-20</text>
<line x1="133.3" y1="1610.5" x2="143.3" y2="1610.5" stroke="#000" stroke-width="4"/>
<text x="122.4" y="1621.5" font-size="34.5" text-anchor="end" fill="#000" style="font-family:'Liberation Serif',serif;font-weight:bold;" >-40</text>
<line x1="133.3" y1="1671.6" x2="143.3" y2="1671.6" stroke="#000" stroke-width="4"/>
<text x="122.4" y="1682.6" font-size="34.5" text-anchor="end" fill="#000" style="font-family:'Liberation Serif',serif;font-weight:bold;" >-60</text>
<line x1="133.3" y1="1732.7" x2="143.3" y2="1732.7" stroke="#000" stroke-width="4"/>
<text x="122.4" y="1743.7" font-size="34.5" text-anchor="end" fill="#000" style="font-family:'Liberation Serif',serif;font-weight:bold;" >-80</text>
<text x="122.4" y="1804.8" font-size="34.5" text-anchor="end" fill="#000" style="font-family:'Liberation Serif',serif;font-weight:bold;" >-100</text>
<text x="133.4" y="1833.0" font-size="34.5" text-anchor="middle" fill="#000" style="font-family:'Liberation Serif',serif;font-weight:bold;" >-900</text>
<line x1="235.3" y1="1796" x2="235.3" y2="1786.5" stroke="#000" stroke-width="4"/>
<text x="235.3" y="1833.0" font-size="34.5" text-anchor="middle" fill="#000" style="font-family:'Liberation Serif',serif;font-weight:bold;" >-600</text>
<line x1="337.20000000000005" y1="1796" x2="337.20000000000005" y2="1786.5" stroke="#000" stroke-width="4"/>
<text x="337.2" y="1833.0" font-size="34.5" text-anchor="middle" fill="#000" style="font-family:'Liberation Serif',serif;font-weight:bold;" >-300</text>
<line x1="439.1" y1="1796" x2="439.1" y2="1786.5" stroke="#000" stroke-width="4"/>
<text x="439.1" y="1833.0" font-size="34.5" text-anchor="middle" fill="#000" style="font-family:'Liberation Serif',serif;font-weight:bold;" >0</text>
<line x1="541.0" y1="1796" x2="541.0" y2="1786.5" stroke="#000" stroke-width="4"/>
<text x="541.0" y="1833.0" font-size="34.5" text-anchor="middle" fill="#000" style="font-family:'Liberation Serif',serif;font-weight:bold;" >300</text>
<line x1="642.9" y1="1796" x2="642.9" y2="1786.5" stroke="#000" stroke-width="4"/>
<text x="642.9" y="1833.0" font-size="34.5" text-anchor="middle" fill="#000" style="font-family:'Liberation Serif',serif;font-weight:bold;" >600</text>
<text x="744.8" y="1833.0" font-size="34.5" text-anchor="middle" fill="#000" style="font-family:'Liberation Serif',serif;font-weight:bold;" >900</text>
<text x="438.0" y="1876.0" font-size="38.7" text-anchor="middle" fill="#000" style="font-family:'Liberation Serif',serif;font-weight:bold;" >Magnet field (KA/m)</text>
<text x="0" y="0" font-size="38.7" text-anchor="middle" style="font-family:'Liberation Serif',serif;font-weight:bold;" transform="translate(61.4,1531) rotate(-90)">Magnetostriction (ppm)</text>
<line x1="625.8" y1="1332" x2="689.8" y2="1332" stroke="#4fb9fa" stroke-width="6.5"/>
<text x="696.0" y="1342.5" font-size="30" text-anchor="start" fill="#000" style="font-family:'Liberation Serif',serif;font-weight:bold;" >1#</text>
<line x1="625.8" y1="1368.7" x2="689.8" y2="1368.7" stroke="#c80000" stroke-width="6.5"/>
<text x="696.0" y="1379.2" font-size="30" text-anchor="start" fill="#000" style="font-family:'Liberation Serif',serif;font-weight:bold;" >2#</text>
<line x1="625.8" y1="1404.5" x2="689.8" y2="1404.5" stroke="#404040" stroke-width="6.5"/>
<text x="696.0" y="1415.0" font-size="30" text-anchor="start" fill="#000" style="font-family:'Liberation Serif',serif;font-weight:bold;" >3#</text>
<line x1="625.8" y1="1440.7" x2="689.8" y2="1440.7" stroke="#ff7f00" stroke-width="6.5"/>
<text x="696.0" y="1451.2" font-size="30" text-anchor="start" fill="#000" style="font-family:'Liberation Serif',serif;font-weight:bold;" >4#</text>
<text x="348.9" y="1351.0" font-size="30" text-anchor="start" fill="#000" style="font-family:'Liberation Serif',serif;font-weight:bold;" >II Magnet field</text>
<text x="772.1" y="1285.0" font-size="40" text-anchor="start" fill="#000" style="font-family:'Liberation Sans',sans-serif;font-weight:bold;" >(</text>
<text x="812.8" y="1285.0" font-size="40" text-anchor="start" fill="#000" style="font-family:'Liberation Sans',sans-serif;font-weight:bold;" >)</text>
<text x="787.5" y="1289.2" font-size="41.2" text-anchor="start" fill="#000" style="font-family:'Liberation Sans',sans-serif;font-weight:bold;" >e</text>
<path d="M912.8,1735.6 C931.9,1735.5 996.0,1735.4 1027.2,1735.2 C1058.4,1735.0 1083.4,1734.8 1100.0,1734.2 C1116.6,1733.7 1118.9,1732.9 1126.7,1731.9 C1134.5,1730.9 1141.5,1729.6 1146.8,1728.2 C1152.1,1726.8 1155.8,1725.3 1158.8,1723.5 C1161.8,1721.7 1162.8,1720.2 1164.8,1717.5 C1166.8,1714.8 1169.2,1711.0 1170.8,1707.5 C1172.3,1704.0 1173.1,1700.8 1174.1,1696.8 C1175.1,1692.8 1176.0,1687.9 1176.8,1683.4 C1177.6,1678.9 1178.1,1675.0 1178.8,1670.0 C1179.5,1665.0 1180.2,1659.6 1180.8,1653.4 C1181.4,1647.2 1181.7,1645.1 1182.6,1632.8 C1183.5,1620.5 1185.3,1594.4 1186.4,1579.8 C1187.5,1565.2 1188.1,1558.2 1189.0,1545.3 C1189.9,1532.3 1190.8,1517.2 1192.0,1502.1 C1193.2,1486.9 1194.8,1468.5 1196.2,1454.4 C1197.6,1440.3 1198.8,1427.0 1200.2,1417.3 C1201.6,1407.6 1202.6,1402.8 1204.4,1396.0 C1206.2,1389.2 1208.4,1381.2 1211.0,1376.5 C1213.6,1371.8 1216.4,1370.3 1220.0,1368.0 C1223.6,1365.7 1226.1,1364.2 1232.6,1362.9 C1239.1,1361.6 1250.3,1361.0 1259.1,1360.3 C1267.9,1359.6 1267.9,1359.5 1285.6,1359.0 C1303.3,1358.5 1335.4,1357.6 1365.2,1357.3 C1395.0,1357.0 1448.0,1357.1 1464.6,1357.1" fill="none" stroke="#c80000" stroke-width="6.3" stroke-linecap="round" stroke-linejoin="round"/>
<line x1="889.0" y1="1359.6" x2="907.8" y2="1359.6" stroke="#808080" stroke-width="4.2"/>
<line x1="925.5" y1="1359.6" x2="944.3" y2="1359.6" stroke="#808080" stroke-width="4.2"/>
<line x1="962.0" y1="1359.6" x2="980.8" y2="1359.6" stroke="#808080" stroke-width="4.2"/>
<line x1="998.5" y1="1359.6" x2="1017.3" y2="1359.6" stroke="#808080" stroke-width="4.2"/>
<line x1="1035.0" y1="1359.6" x2="1053.8" y2="1359.6" stroke="#808080" stroke-width="4.2"/>
<line x1="1071.5" y1="1359.6" x2="1090.3" y2="1359.6" stroke="#808080" stroke-width="4.2"/>
<line x1="1108.0" y1="1359.6" x2="1126.8" y2="1359.6" stroke="#808080" stroke-width="4.2"/>
<line x1="1144.5" y1="1359.6" x2="1163.3" y2="1359.6" stroke="#808080" stroke-width="4.2"/>
<line x1="1181.0" y1="1359.6" x2="1199.8" y2="1359.6" stroke="#808080" stroke-width="4.2"/>
<line x1="1217.5" y1="1359.6" x2="1236.3" y2="1359.6" stroke="#808080" stroke-width="4.2"/>
<line x1="1254.0" y1="1359.6" x2="1272.8" y2="1359.6" stroke="#808080" stroke-width="4.2"/>
<line x1="894.0" y1="1545.9" x2="912.8" y2="1545.9" stroke="#808080" stroke-width="4.2"/>
<line x1="930.2" y1="1545.9" x2="949.0" y2="1545.9" stroke="#808080" stroke-width="4.2"/>
<line x1="966.4" y1="1545.9" x2="985.2" y2="1545.9" stroke="#808080" stroke-width="4.2"/>
<line x1="1002.6" y1="1545.9" x2="1021.4" y2="1545.9" stroke="#808080" stroke-width="4.2"/>
<line x1="1038.8" y1="1545.9" x2="1057.6" y2="1545.9" stroke="#808080" stroke-width="4.2"/>
<line x1="1075.0" y1="1545.9" x2="1093.8" y2="1545.9" stroke="#808080" stroke-width="4.2"/>
<line x1="1111.2" y1="1545.9" x2="1130.0" y2="1545.9" stroke="#808080" stroke-width="4.2"/>
<line x1="1147.4" y1="1545.9" x2="1166.2" y2="1545.9" stroke="#808080" stroke-width="4.2"/>
<line x1="1183.6" y1="1545.9" x2="1191" y2="1545.9" stroke="#808080" stroke-width="4.2"/>
<line x1="1189.4" y1="1546.0" x2="1189.4" y2="1564.8" stroke="#808080" stroke-width="4.2"/>
<line x1="1189.4" y1="1582.2" x2="1189.4" y2="1601.0" stroke="#808080" stroke-width="4.2"/>
<line x1="1189.4" y1="1618.4" x2="1189.4" y2="1637.2" stroke="#808080" stroke-width="4.2"/>
<line x1="1189.4" y1="1654.6" x2="1189.4" y2="1673.4" stroke="#808080" stroke-width="4.2"/>
<line x1="1189.4" y1="1690.8" x2="1189.4" y2="1709.6" stroke="#808080" stroke-width="4.2"/>
<line x1="1189.4" y1="1727.0" x2="1189.4" y2="1745.8" stroke="#808080" stroke-width="4.2"/>
<line x1="1189.4" y1="1763.2" x2="1189.4" y2="1782.0" stroke="#808080" stroke-width="4.2"/>
<line x1="1285.6" y1="1362.9" x2="1311.1" y2="1405.4" stroke="#000" stroke-width="3.2"/>
<polygon points="1321.4,1422.6 1303.7,1407.6 1310.6,1404.6 1316.5,1399.9" fill="#000"/>
<line x1="1187.5" y1="1543.2" x2="1157.4" y2="1497.1" stroke="#000" stroke-width="3.2"/>
<polygon points="1146.4,1480.4 1164.7,1494.7 1157.9,1498.0 1152.2,1502.9" fill="#000"/>
<line x1="1188.8" y1="1545.9" x2="1243.6" y2="1590.9" stroke="#000" stroke-width="3.2"/>
<polygon points="1259.1,1603.6 1237.3,1595.4 1242.9,1590.3 1246.9,1583.8" fill="#000"/>
<rect x="885.4" y="1302.6" width="607.6" height="487.9" fill="none" stroke="#000" stroke-width="4.7"/>
<text x="874.5" y="1314.0" font-size="34.5" text-anchor="end" fill="#000" style="font-family:'Liberation Serif',serif;font-weight:bold;" >300</text>
<line x1="885.4" y1="1384.17" x2="895.4" y2="1384.17" stroke="#000" stroke-width="4.6"/>
<text x="874.5" y="1395.2" font-size="34.5" text-anchor="end" fill="#000" style="font-family:'Liberation Serif',serif;font-weight:bold;" >200</text>
<line x1="885.4" y1="1465.34" x2="895.4" y2="1465.34" stroke="#000" stroke-width="4.6"/>
<text x="874.5" y="1476.3" font-size="34.5" text-anchor="end" fill="#000" style="font-family:'Liberation Serif',serif;font-weight:bold;" >100</text>
<line x1="885.4" y1="1546.51" x2="895.4" y2="1546.51" stroke="#000" stroke-width="4.6"/>
<text x="874.5" y="1557.5" font-size="34.5" text-anchor="end" fill="#000" style="font-family:'Liberation Serif',serif;font-weight:bold;" >0</text>
<line x1="885.4" y1="1627.68" x2="895.4" y2="1627.68" stroke="#000" stroke-width="4.6"/>
<text x="874.5" y="1638.7" font-size="34.5" text-anchor="end" fill="#000" style="font-family:'Liberation Serif',serif;font-weight:bold;" >-100</text>
<line x1="885.4" y1="1708.85" x2="895.4" y2="1708.85" stroke="#000" stroke-width="4.6"/>
<text x="874.5" y="1719.8" font-size="34.5" text-anchor="end" fill="#000" style="font-family:'Liberation Serif',serif;font-weight:bold;" >-200</text>
<text x="874.5" y="1801.0" font-size="34.5" text-anchor="end" fill="#000" style="font-family:'Liberation Serif',serif;font-weight:bold;" >-300</text>
<line x1="946.5" y1="1790.5" x2="946.5" y2="1781.0" stroke="#000" stroke-width="4.6"/>
<text x="946.5" y="1826.0" font-size="34.5" text-anchor="middle" fill="#000" style="font-family:'Liberation Serif',serif;font-weight:bold;" >-40000</text>
<line x1="1067.8" y1="1790.5" x2="1067.8" y2="1781.0" stroke="#000" stroke-width="4.6"/>
<text x="1067.8" y="1826.0" font-size="34.5" text-anchor="middle" fill="#000" style="font-family:'Liberation Serif',serif;font-weight:bold;" >-20000</text>
<line x1="1189.1" y1="1790.5" x2="1189.1" y2="1781.0" stroke="#000" stroke-width="4.6"/>
<text x="1189.1" y="1826.0" font-size="34.5" text-anchor="middle" fill="#000" style="font-family:'Liberation Serif',serif;font-weight:bold;" >0</text>
<line x1="1310.4" y1="1790.5" x2="1310.4" y2="1781.0" stroke="#000" stroke-width="4.6"/>
<text x="1310.4" y="1826.0" font-size="34.5" text-anchor="middle" fill="#000" style="font-family:'Liberation Serif',serif;font-weight:bold;" >20000</text>
<line x1="1431.7" y1="1790.5" x2="1431.7" y2="1781.0" stroke="#000" stroke-width="4.6"/>
<text x="1431.7" y="1826.0" font-size="34.5" text-anchor="middle" fill="#000" style="font-family:'Liberation Serif',serif;font-weight:bold;" >40000</text>
<text x="1190.0" y="1863.0" font-size="38.7" text-anchor="middle" fill="#000" style="font-family:'Liberation Serif',serif;font-weight:bold;" >Magnet field (Oe)</text>
<text x="0" y="0" font-size="38.7" text-anchor="middle" style="font-family:'Liberation Serif',serif;font-weight:bold;" transform="translate(809.5,1539.5) rotate(-90)">Magnetization (emu/g)</text>
<text x="901.0" y="1338.8" font-size="29" text-anchor="start" fill="#000" style="font-family:'Liberation Serif',serif;font-weight:bold;" >300K</text>
<text x="926" y="1464.3" font-size="29" style="font-family:'Liberation Serif',serif;font-weight:bold;">H=0,|M<tspan font-size="19" dy="6">r</tspan><tspan dy="-6">|&#8776;0.4 emu/g</tspan></text>
<text x="1240.5" y="1457.6" font-size="29" style="font-family:'Liberation Serif',serif;font-weight:bold;">M<tspan font-size="19" dy="6">s</tspan><tspan dy="-6">&#8776;232 emu/g</tspan></text>
<text x="1247" y="1630.5" font-size="29.5" style="font-family:'Liberation Serif',serif;font-weight:bold;">M=0,|H<tspan font-size="31" dy="8">cm</tspan><tspan dy="-8">|&#8776;20 Oe</tspan></text>
</svg></body></html>
